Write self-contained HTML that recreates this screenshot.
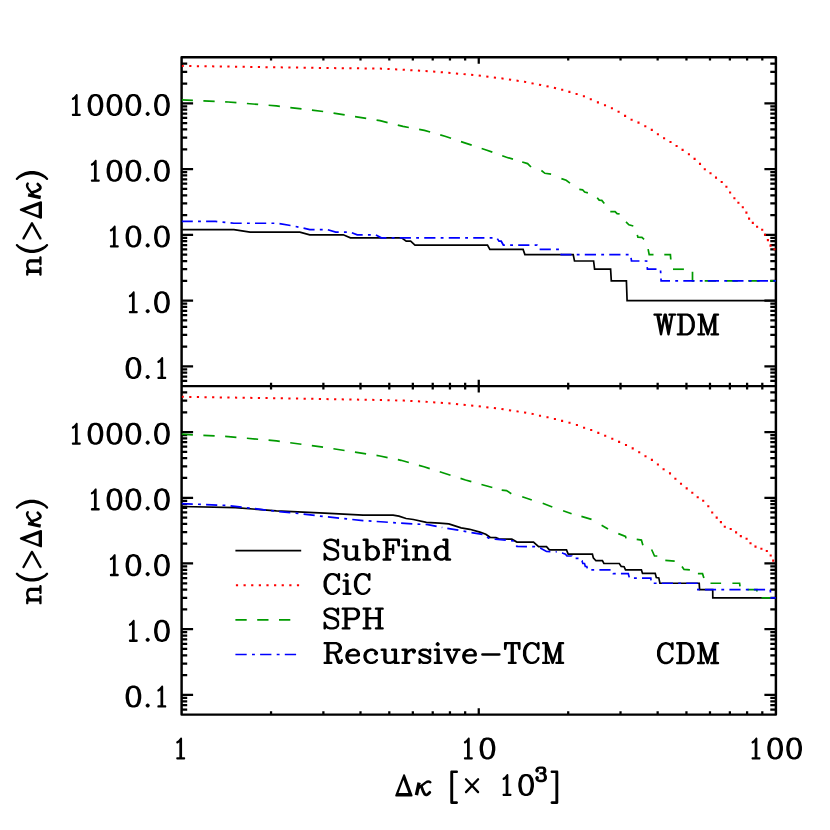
<!DOCTYPE html><html><head><meta charset="utf-8"><title>plot</title><style>html,body{margin:0;padding:0;background:#fff;font-family:"Liberation Sans",sans-serif}svg{display:block}</style></head><body><svg width="830" height="830" viewBox="0 0 830 830"><defs><clipPath id="ct"><rect x="181.6" y="57.3" width="594.3" height="328.8"/></clipPath><clipPath id="cb"><rect x="181.6" y="386.1" width="594.3" height="328.5"/></clipPath></defs><rect width="830" height="830" fill="#fff"/><path d="M181.6 380.95L187.2 380.95M775.9 380.95L770.3 380.95M181.6 376.55L187.2 376.55M775.9 376.55L770.3 376.55M181.6 372.73L187.2 372.73M775.9 372.73L770.3 372.73M181.6 369.37L187.2 369.37M775.9 369.37L770.3 369.37M181.6 366.36L193.1 366.36M775.9 366.36L764.4 366.36M181.6 346.56L187.2 346.56M775.9 346.56L770.3 346.56M181.6 334.98L187.2 334.98M775.9 334.98L770.3 334.98M181.6 326.77L187.2 326.77M775.9 326.77L770.3 326.77M181.6 320.4L187.2 320.4M775.9 320.4L770.3 320.4M181.6 315.19L187.2 315.19M775.9 315.19L770.3 315.19M181.6 310.79L187.2 310.79M775.9 310.79L770.3 310.79M181.6 306.97L187.2 306.97M775.9 306.97L770.3 306.97M181.6 303.61L187.2 303.61M775.9 303.61L770.3 303.61M181.6 300.6L193.1 300.6M775.9 300.6L764.4 300.6M181.6 280.8L187.2 280.8M775.9 280.8L770.3 280.8M181.6 269.22L187.2 269.22M775.9 269.22L770.3 269.22M181.6 261.01L187.2 261.01M775.9 261.01L770.3 261.01M181.6 254.64L187.2 254.64M775.9 254.64L770.3 254.64M181.6 249.43L187.2 249.43M775.9 249.43L770.3 249.43M181.6 245.03L187.2 245.03M775.9 245.03L770.3 245.03M181.6 241.21L187.2 241.21M775.9 241.21L770.3 241.21M181.6 237.85L187.2 237.85M775.9 237.85L770.3 237.85M181.6 234.84L193.1 234.84M775.9 234.84L764.4 234.84M181.6 215.04L187.2 215.04M775.9 215.04L770.3 215.04M181.6 203.46L187.2 203.46M775.9 203.46L770.3 203.46M181.6 195.25L187.2 195.25M775.9 195.25L770.3 195.25M181.6 188.88L187.2 188.88M775.9 188.88L770.3 188.88M181.6 183.67L187.2 183.67M775.9 183.67L770.3 183.67M181.6 179.27L187.2 179.27M775.9 179.27L770.3 179.27M181.6 175.45L187.2 175.45M775.9 175.45L770.3 175.45M181.6 172.09L187.2 172.09M775.9 172.09L770.3 172.09M181.6 169.08L193.1 169.08M775.9 169.08L764.4 169.08M181.6 149.28L187.2 149.28M775.9 149.28L770.3 149.28M181.6 137.7L187.2 137.7M775.9 137.7L770.3 137.7M181.6 129.49L187.2 129.49M775.9 129.49L770.3 129.49M181.6 123.12L187.2 123.12M775.9 123.12L770.3 123.12M181.6 117.91L187.2 117.91M775.9 117.91L770.3 117.91M181.6 113.51L187.2 113.51M775.9 113.51L770.3 113.51M181.6 109.69L187.2 109.69M775.9 109.69L770.3 109.69M181.6 106.33L187.2 106.33M775.9 106.33L770.3 106.33M181.6 103.32L193.1 103.32M775.9 103.32L764.4 103.32M181.6 83.52L187.2 83.52M775.9 83.52L770.3 83.52M181.6 71.94L187.2 71.94M775.9 71.94L770.3 71.94M181.6 63.73L187.2 63.73M775.9 63.73L770.3 63.73M271.05 57.3L271.05 60.6M271.05 386.1L271.05 382.8M323.38 57.3L323.38 60.6M323.38 386.1L323.38 382.8M360.5 57.3L360.5 60.6M360.5 386.1L360.5 382.8M389.3 57.3L389.3 60.6M389.3 386.1L389.3 382.8M412.83 57.3L412.83 60.6M412.83 386.1L412.83 382.8M432.72 57.3L432.72 60.6M432.72 386.1L432.72 382.8M449.95 57.3L449.95 60.6M449.95 386.1L449.95 382.8M465.15 57.3L465.15 60.6M465.15 386.1L465.15 382.8M478.75 57.3L478.75 63.7M478.75 386.1L478.75 379.7M568.2 57.3L568.2 60.6M568.2 386.1L568.2 382.8M620.53 57.3L620.53 60.6M620.53 386.1L620.53 382.8M657.65 57.3L657.65 60.6M657.65 386.1L657.65 382.8M686.45 57.3L686.45 60.6M686.45 386.1L686.45 382.8M709.98 57.3L709.98 60.6M709.98 386.1L709.98 382.8M729.87 57.3L729.87 60.6M729.87 386.1L729.87 382.8M747.1 57.3L747.1 60.6M747.1 386.1L747.1 382.8M762.3 57.3L762.3 60.6M762.3 386.1L762.3 382.8M181.6 709.5L187.2 709.5M775.9 709.5L770.3 709.5M181.6 705.1L187.2 705.1M775.9 705.1L770.3 705.1M181.6 701.29L187.2 701.29M775.9 701.29L770.3 701.29M181.6 697.93L187.2 697.93M775.9 697.93L770.3 697.93M181.6 694.92L193.1 694.92M775.9 694.92L764.4 694.92M181.6 675.14L187.2 675.14M775.9 675.14L770.3 675.14M181.6 663.56L187.2 663.56M775.9 663.56L770.3 663.56M181.6 655.35L187.2 655.35M775.9 655.35L770.3 655.35M181.6 648.98L187.2 648.98M775.9 648.98L770.3 648.98M181.6 643.78L187.2 643.78M775.9 643.78L770.3 643.78M181.6 639.38L187.2 639.38M775.9 639.38L770.3 639.38M181.6 635.57L187.2 635.57M775.9 635.57L770.3 635.57M181.6 632.21L187.2 632.21M775.9 632.21L770.3 632.21M181.6 629.2L193.1 629.2M775.9 629.2L764.4 629.2M181.6 609.42L187.2 609.42M775.9 609.42L770.3 609.42M181.6 597.84L187.2 597.84M775.9 597.84L770.3 597.84M181.6 589.63L187.2 589.63M775.9 589.63L770.3 589.63M181.6 583.26L187.2 583.26M775.9 583.26L770.3 583.26M181.6 578.06L187.2 578.06M775.9 578.06L770.3 578.06M181.6 573.66L187.2 573.66M775.9 573.66L770.3 573.66M181.6 569.85L187.2 569.85M775.9 569.85L770.3 569.85M181.6 566.49L187.2 566.49M775.9 566.49L770.3 566.49M181.6 563.48L193.1 563.48M775.9 563.48L764.4 563.48M181.6 543.7L187.2 543.7M775.9 543.7L770.3 543.7M181.6 532.12L187.2 532.12M775.9 532.12L770.3 532.12M181.6 523.91L187.2 523.91M775.9 523.91L770.3 523.91M181.6 517.54L187.2 517.54M775.9 517.54L770.3 517.54M181.6 512.34L187.2 512.34M775.9 512.34L770.3 512.34M181.6 507.94L187.2 507.94M775.9 507.94L770.3 507.94M181.6 504.13L187.2 504.13M775.9 504.13L770.3 504.13M181.6 500.77L187.2 500.77M775.9 500.77L770.3 500.77M181.6 497.76L193.1 497.76M775.9 497.76L764.4 497.76M181.6 477.98L187.2 477.98M775.9 477.98L770.3 477.98M181.6 466.4L187.2 466.4M775.9 466.4L770.3 466.4M181.6 458.19L187.2 458.19M775.9 458.19L770.3 458.19M181.6 451.82L187.2 451.82M775.9 451.82L770.3 451.82M181.6 446.62L187.2 446.62M775.9 446.62L770.3 446.62M181.6 442.22L187.2 442.22M775.9 442.22L770.3 442.22M181.6 438.41L187.2 438.41M775.9 438.41L770.3 438.41M181.6 435.05L187.2 435.05M775.9 435.05L770.3 435.05M181.6 432.04L193.1 432.04M775.9 432.04L764.4 432.04M181.6 412.26L187.2 412.26M775.9 412.26L770.3 412.26M181.6 400.68L187.2 400.68M775.9 400.68L770.3 400.68M181.6 392.47L187.2 392.47M775.9 392.47L770.3 392.47M271.05 386.1L271.05 389.4M271.05 714.6L271.05 711.3M323.38 386.1L323.38 389.4M323.38 714.6L323.38 711.3M360.5 386.1L360.5 389.4M360.5 714.6L360.5 711.3M389.3 386.1L389.3 389.4M389.3 714.6L389.3 711.3M412.83 386.1L412.83 389.4M412.83 714.6L412.83 711.3M432.72 386.1L432.72 389.4M432.72 714.6L432.72 711.3M449.95 386.1L449.95 389.4M449.95 714.6L449.95 711.3M465.15 386.1L465.15 389.4M465.15 714.6L465.15 711.3M478.75 386.1L478.75 392.5M478.75 714.6L478.75 708.2M568.2 386.1L568.2 389.4M568.2 714.6L568.2 711.3M620.53 386.1L620.53 389.4M620.53 714.6L620.53 711.3M657.65 386.1L657.65 389.4M657.65 714.6L657.65 711.3M686.45 386.1L686.45 389.4M686.45 714.6L686.45 711.3M709.98 386.1L709.98 389.4M709.98 714.6L709.98 711.3M729.87 386.1L729.87 389.4M729.87 714.6L729.87 711.3M747.1 386.1L747.1 389.4M747.1 714.6L747.1 711.3M762.3 386.1L762.3 389.4M762.3 714.6L762.3 711.3" stroke="#000" stroke-width="2.25" fill="none"/>
<path d="M181.6 57.3H775.9V714.6H181.6ZM181.6 386.1H775.9" stroke="#000" stroke-width="2.45" fill="none" stroke-linejoin="round"/>
<g clip-path="url(#ct)">
<path d="M181.6 229.63 L233.93 229.63 L250.08 232.12 L299.85 232.12 L309.78 234.84 L343.27 234.84 L350.44 237.85 L401.6 237.85 L406.21 241.21 L410.66 241.21 L414.96 245.03 L487.48 245.03 L489.87 249.43 L523.09 249.43 L524.91 254.64 L573.2 254.64 L574.5 261.01 L593.6 261.01 L594.6 269.22 L610.6 269.22 L611.3 280.8 L626.4 280.8 L627.1 300.6 L775.9 300.6" fill="none" stroke="#000" stroke-width="1.7" stroke-linejoin="miter"/>
<path d="M181.6 65.9 L228.2 66.6 L276.4 67.3 L324.6 68 L380 68.6 L404.1 69.8 L428.2 71.2 L452.3 73.1 L476.4 75.3 L500.5 78.2 L524.6 81.8 L548.7 86.6 L558.7 88.94" fill="none" stroke="#ff0000" stroke-width="2.0" stroke-dasharray="2.2 5.425" stroke-dashoffset="0" stroke-linejoin="miter"/>
<path d="M562.2 89.8h0M569.4 91.9h0M576.6 94h0M583.9 96.3h0M590.8 99.2h0M597.9 102.4h0M605 105.3h0M611.9 108.2h0M618.6 111.8h0M625.1 115.9h0M631.6 119.8h0M638.5 122.6h0M645.3 126.3h0M651.8 129.9h0M657.9 134.2h0M664.1 138.2h0M670.5 142h0M676.6 146h0M682.6 149.9h0M688.9 154.2h0M694.6 158.9h0M700 163.9h0M704.8 169.3h0M710.5 173.3h0M716 177.6h0M721.7 182h0M726.4 186.8h0M730.1 192.5h0M734.4 198.2h0M738.4 202.7h0M742.8 207.3h0M746.4 212.6h0M749.1 218.6h0M752.8 222.9h0M757.1 226.8h0M762.2 229.7h0M765 234.8h0M767.9 240.1h0M770.5 245.6h0M774.4 249.2h0" stroke="#ff0000" stroke-width="2.1" stroke-linecap="square" fill="none"/>
<path d="M181.6 99.9 L228.2 102 L276.4 105.9 L324.6 111.7 L380 120.7 L403 126.4 L424.4 130.4 L445 136.2 L465.5 143.1 L486.2 150 L506.5 157.2 L522.2 162" fill="none" stroke="#009a00" stroke-width="1.7" stroke-dasharray="11.3 10.5" stroke-dashoffset="0" stroke-linejoin="miter"/>
<path d="M522.2 162 L527.6 163.6 L531 167" fill="none" stroke="#009a00" stroke-width="1.7" stroke-linejoin="miter"/>
<path d="M541.4 170.5 L544.9 173.3 L551.1 174.1" fill="none" stroke="#009a00" stroke-width="1.7" stroke-linejoin="miter"/>
<path d="M561.4 178.6 L566.2 180.3 L570 183.1" fill="none" stroke="#009a00" stroke-width="1.7" stroke-linejoin="miter"/>
<path d="M579.3 189.4 L582.6 189.8 L584.6 192.1 L587.9 192.8" fill="none" stroke="#009a00" stroke-width="1.7" stroke-linejoin="miter"/>
<path d="M597.2 197.7 L599.2 200.1 L601.8 200.4 L604.3 203.5" fill="none" stroke="#009a00" stroke-width="1.7" stroke-linejoin="miter"/>
<path d="M610.3 211.6 L615.1 211.6 L617.1 213.6 L619.6 213.9" fill="none" stroke="#009a00" stroke-width="1.7" stroke-linejoin="miter"/>
<path d="M626 221.9 L628.9 224.8 L633.3 226" fill="none" stroke="#009a00" stroke-width="1.7" stroke-linejoin="miter"/>
<path d="M637.3 234.9 L637.9 237.1 L641.9 237.4 L644.1 239.3" fill="none" stroke="#009a00" stroke-width="1.7" stroke-linejoin="miter"/>
<path d="M648.1 249.1 L649.2 254.64 L653.5 254.64" fill="none" stroke="#009a00" stroke-width="1.7" stroke-linejoin="miter"/>
<path d="M664.3 254.64 L670.4 254.64 L670.8 259.5" fill="none" stroke="#009a00" stroke-width="1.7" stroke-linejoin="miter"/>
<path d="M673 269.22 L683.9 269.22" fill="none" stroke="#009a00" stroke-width="1.7" stroke-linejoin="miter"/>
<path d="M692.5 271.8 L692.5 280.8 L694 280.8" fill="none" stroke="#009a00" stroke-width="1.7" stroke-linejoin="miter"/>
<path d="M694 280.8 L775.9 280.8" fill="none" stroke="#009a00" stroke-width="1.7" stroke-dasharray="11.3 10.5" stroke-dashoffset="11.1" stroke-linejoin="miter"/>
<path d="M181.6 221.42 L215.46 221.42 L233.93 223.26 L277.35 223.26 L289.09 225.23 L289.09 225.23 L299.85 227.35 L299.85 227.35 L309.78 229.63 L327.61 229.63 L335.68 232.12 L350.44 232.12 L357.23 234.84 L375.7 234.84 L381.31 237.85 L496.79 237.85 L499.01 241.21 L501.2 241.21 L503.35 245.03 L536.96 245.03 L538.6 249.43 L559.6 249.43 L561.2 254.64 L630.6 254.64 L631.5 261.01 L646.6 261.01 L647.4 269.22 L660.5 269.22 L661.1 280.8 L775.9 280.8" fill="none" stroke="#0000ff" stroke-width="1.7" stroke-dasharray="11.2 5.25 2.85 5.2" stroke-dashoffset="0" stroke-linejoin="miter"/>
</g>
<g clip-path="url(#cb)">
<path d="M181.6 506.5 L235.4 507.7 L276.4 510.8 L324.6 513.2 L363.1 515.2 L393.1 515.2 L398.9 516.2 L406.1 518.5 L413.4 519.5 L426.4 522.4 L439.4 523.1 L448.8 523.9 L461.1 527.9 L469.8 529.3 L479.9 532.1 L485.8 534.2 L490.1 537.3 L495.9 537.6 L498.8 538.8 L511.8 539.2 L516.9 542.1 L533.5 542.1 L538.6 546.7 L546.5 546.7 L549.4 549.9 L566.5 549.9 L568.2 554.1 L592.4 554.1 L593.3 557.8 L595.9 560.7 L602.4 560.7 L603.9 563.5 L619.3 563.5 L621.2 566.4 L624.1 566.7 L625.5 569.8 L641.4 569.8 L642.5 573.4 L655.2 573.4 L656.3 577.5 L658.8 577.9 L659.9 583.26 L699.2 583.26 L699.6 589.63 L712.7 589.63 L712.8 597.84 L775.9 597.84" fill="none" stroke="#000" stroke-width="1.7" stroke-linejoin="miter"/>
<path d="M181.6 396.8 L280 398.3 L380 400 L404.1 400.6 L428.2 401.9 L452.3 403.6 L476.4 406 L500.5 408.9 L524.6 412.5 L536.5 414.62" fill="none" stroke="#ff0000" stroke-width="2.0" stroke-dasharray="2.2 5.425" stroke-dashoffset="0" stroke-linejoin="miter"/>
<path d="M540 415.8h0M547.5 417.3h0M554.9 419h0M562.1 420.9h0M569.5 422.8h0M576.9 425h0M584.1 427.7h0M591.2 430h0M598.3 432.9h0M605.2 435.8h0M612.3 438.7h0M619.1 441.9h0M626 445h0M632.7 448.4h0M639.2 452.3h0M645.5 456.3h0M651.9 459.9h0M657.9 464.5h0M663.6 469.2h0M670 473.4h0M675.4 478.8h0M681 483.8h0M686.7 488.4h0M692.3 492.8h0M697.7 497.3h0M703.2 500.7h0M708.3 506.3h0M712.2 512.5h0M716.7 517.6h0M720.9 522.1h0M724.8 526.8h0M730.7 529h0M736.1 532.4h0M740.8 536.1h0M746.6 538.7h0M750.5 543.2h0M755.5 546.6h0M761.4 548.8h0M766.8 551h0M770.7 555.5h0M773.2 560.6h0" stroke="#ff0000" stroke-width="2.1" stroke-linecap="square" fill="none"/>
<path d="M181.6 434.2 L228.2 436.6 L276.4 440.9 L324.6 447.4 L380 456 L401 460.3 L424 466.8 L445.1 473.5 L465.5 480 L486 485.8 L501.7 490.1" fill="none" stroke="#009a00" stroke-width="1.7" stroke-dasharray="11.3 10.5" stroke-dashoffset="0" stroke-linejoin="miter"/>
<path d="M501.7 490.1 L506.5 490.6 L511.3 493.7" fill="none" stroke="#009a00" stroke-width="1.7" stroke-linejoin="miter"/>
<path d="M522.2 496.8 L531.8 500" fill="none" stroke="#009a00" stroke-width="1.7" stroke-linejoin="miter"/>
<path d="M542.7 503.3 L552.3 507" fill="none" stroke="#009a00" stroke-width="1.7" stroke-linejoin="miter"/>
<path d="M563.1 510.8 L571.6 513.7" fill="none" stroke="#009a00" stroke-width="1.7" stroke-linejoin="miter"/>
<path d="M581.4 516.4 L591.5 519.4" fill="none" stroke="#009a00" stroke-width="1.7" stroke-linejoin="miter"/>
<path d="M601.6 525.3 L608 529" fill="none" stroke="#009a00" stroke-width="1.7" stroke-linejoin="miter"/>
<path d="M618.3 533.6 L625.5 536.5 L626 538.4" fill="none" stroke="#009a00" stroke-width="1.7" stroke-linejoin="miter"/>
<path d="M636.7 539.4 L641.4 540.1 L642.9 545.2" fill="none" stroke="#009a00" stroke-width="1.7" stroke-linejoin="miter"/>
<path d="M651.6 549.5 L654.5 556 L657.3 556" fill="none" stroke="#009a00" stroke-width="1.7" stroke-linejoin="miter"/>
<path d="M665.3 560.4 L674.7 561.1" fill="none" stroke="#009a00" stroke-width="1.7" stroke-linejoin="miter"/>
<path d="M682 566.5 L684 569.4 L689.9 569.85" fill="none" stroke="#009a00" stroke-width="1.7" stroke-linejoin="miter"/>
<path d="M697.9 573.66 L702.5 573.66 L703.9 578.06" fill="none" stroke="#009a00" stroke-width="1.7" stroke-linejoin="miter"/>
<path d="M710.5 583.26 L721.1 583.26" fill="none" stroke="#009a00" stroke-width="1.7" stroke-linejoin="miter"/>
<path d="M732.4 583.26 L739.6 583.26 L740 586.4" fill="none" stroke="#009a00" stroke-width="1.7" stroke-linejoin="miter"/>
<path d="M747.5 589.63 L756.9 589.63 L756.9 591.5" fill="none" stroke="#009a00" stroke-width="1.7" stroke-linejoin="miter"/>
<path d="M761.5 597.84 L771.5 597.84" fill="none" stroke="#009a00" stroke-width="1.7" stroke-linejoin="miter"/>
<path d="M181.6 503.6 L228.2 505.5 L276.4 511.3 L300.5 513.7 L324.6 516.6 L363.1 520.6 L384.5 522 L398.9 523.1 L413.4 523.9 L427.8 524.6 L442.3 527.5" fill="none" stroke="#0000ff" stroke-width="1.7" stroke-dasharray="11.2 5.25 2.85 5.2" stroke-dashoffset="0" stroke-linejoin="miter"/>
<path d="M442.3 527.5 L456.7 529.9 L471.2 532.5 L482.8 534.4 L488.7 538.1 L495.2 539.2 L514 541 L516.9 546.5 L534.9 546.7 L540.7 548.2 L546.5 551.5 L556.6 551.8" fill="none" stroke="#0000ff" stroke-width="1.7" stroke-dasharray="11.2 5.25 2.85 5.2" stroke-dashoffset="19.4" stroke-linejoin="miter"/>
<path d="M556.6 551.8 L562.2 553 L565.5 554.2 L566.9 555.99 L571.8 555.99 L572.5 558.28 L579.5 558.28 L580.3 560.76 L582 560.76 L582.8 563.48 L584.5 563.48 L585.3 566.49 L586.8 566.49 L587.6 569.85 L612.3 569.85 L613.3 573.66 L628.3 573.66 L629.4 578.06 L650.8 578.06 L651.3 583.26 L697.4 583.26 L697.9 589.63 L770.3 589.63 L770.8 597.84 L775.9 597.84" fill="none" stroke="#0000ff" stroke-width="1.7" stroke-dasharray="11.2 5.25 2.85 5.2" stroke-dashoffset="19.01" stroke-linejoin="miter"/>
</g>
<path d="M235.4 550.6 L301.2 550.6" fill="none" stroke="#000" stroke-width="1.7" stroke-linejoin="miter"/>
<path d="M235.9 585.3 L301.2 585.3" fill="none" stroke="#ff0000" stroke-width="2.0" stroke-dasharray="2.2 5.425" stroke-dashoffset="0" stroke-linejoin="miter"/>
<path d="M235.4 619.8 L295 619.8" fill="none" stroke="#009a00" stroke-width="1.7" stroke-dasharray="11.3 10.5" stroke-dashoffset="0" stroke-linejoin="miter"/>
<path d="M235.4 654.5 L300 654.5" fill="none" stroke="#0000ff" stroke-width="1.7" stroke-dasharray="11.3 5.3 2.9 5.2" stroke-dashoffset="0" stroke-linejoin="miter"/>
<path d="M76.99 93.99 L76.75 93.99 L76.7 93.93 L76.65 93.99 L76.41 93.99 L76.12 94.17 L73.78 96.99 L72.37 97.81 L72.03 98.16 L71.88 98.52 L71.88 98.81 L71.83 98.87 L71.88 98.93 L71.88 99.22 L72.03 99.57 L72.22 99.81 L72.51 99.99 L72.76 99.99 L72.81 100.04 L73.24 99.93 L74.8 98.99 L74.9 98.87 L74.95 98.93 L74.95 113.62 L74.9 113.67 L72.81 113.67 L72.76 113.73 L72.51 113.73 L72.22 113.91 L72.03 114.14 L71.88 114.5 L71.88 114.79 L71.83 114.85 L71.88 114.91 L71.88 115.2 L72.03 115.55 L72.22 115.79 L72.51 115.97 L72.76 115.97 L72.81 116.02 L79.82 116.02 L79.87 115.97 L80.11 115.97 L80.4 115.79 L80.6 115.55 L80.74 115.2 L80.74 114.91 L80.79 114.85 L80.74 114.79 L80.74 114.5 L80.6 114.14 L80.4 113.91 L80.11 113.73 L79.87 113.73 L79.82 113.67 L77.72 113.67 L77.68 113.62 L77.68 95.11 L77.63 95.05 L77.63 94.76 L77.48 94.4 L77.29 94.17ZM94.48 93.93 L94.42 93.99 L94.06 93.99 L91.39 94.87 L90.92 95.11 L90.62 95.4 L88.72 98.22 L88.54 98.63 L87.59 103.33 L87.65 103.39 L87.59 103.57 L87.59 106.39 L87.65 106.57 L87.59 106.62 L88.54 111.32 L88.72 111.74 L90.62 114.56 L90.92 114.85 L91.39 115.08 L94.06 115.97 L94.42 115.97 L94.48 116.02 L96.38 116.02 L96.44 115.97 L96.8 115.97 L99.47 115.08 L99.94 114.85 L100.24 114.56 L102.14 111.74 L102.32 111.32 L103.27 106.62 L103.21 106.57 L103.27 106.39 L103.27 103.57 L103.21 103.39 L103.27 103.33 L102.32 98.63 L102.14 98.22 L100.24 95.4 L99.94 95.11 L99.47 94.87 L96.8 93.99 L96.44 93.99 L96.38 93.93ZM94.72 96.28 L96.14 96.28 L97.57 96.99 L98.28 97.69 L99.05 99.22 L99.94 103.57 L99.94 106.39 L99.05 110.74 L98.28 112.26 L97.57 112.97 L96.14 113.67 L94.72 113.67 L93.29 112.97 L92.58 112.26 L91.81 110.74 L90.92 106.39 L90.92 103.57 L91.81 99.22 L92.58 97.69 L93.29 96.99ZM113.48 93.93 L113.42 93.99 L113.06 93.99 L110.39 94.87 L109.92 95.11 L109.62 95.4 L107.72 98.22 L107.54 98.63 L106.59 103.33 L106.65 103.39 L106.59 103.57 L106.59 106.39 L106.65 106.57 L106.59 106.62 L107.54 111.32 L107.72 111.74 L109.62 114.56 L109.92 114.85 L110.39 115.08 L113.06 115.97 L113.42 115.97 L113.48 116.02 L115.38 116.02 L115.44 115.97 L115.8 115.97 L118.47 115.08 L118.94 114.85 L119.24 114.56 L121.14 111.74 L121.32 111.32 L122.27 106.62 L122.21 106.57 L122.27 106.39 L122.27 103.57 L122.21 103.39 L122.27 103.33 L121.32 98.63 L121.14 98.22 L119.24 95.4 L118.94 95.11 L118.47 94.87 L115.8 93.99 L115.44 93.99 L115.38 93.93ZM113.72 96.28 L115.14 96.28 L116.57 96.99 L117.28 97.69 L118.05 99.22 L118.94 103.57 L118.94 106.39 L118.05 110.74 L117.28 112.26 L116.57 112.97 L115.14 113.67 L113.72 113.67 L112.29 112.97 L111.58 112.26 L110.81 110.74 L109.92 106.39 L109.92 103.57 L110.81 99.22 L111.58 97.69 L112.29 96.99ZM132.48 93.93 L132.42 93.99 L132.06 93.99 L129.39 94.87 L128.92 95.11 L128.62 95.4 L126.72 98.22 L126.54 98.63 L125.59 103.33 L125.65 103.39 L125.59 103.57 L125.59 106.39 L125.65 106.57 L125.59 106.62 L126.54 111.32 L126.72 111.74 L128.62 114.56 L128.92 114.85 L129.39 115.08 L132.06 115.97 L132.42 115.97 L132.48 116.02 L134.38 116.02 L134.44 115.97 L134.8 115.97 L137.47 115.08 L137.94 114.85 L138.24 114.56 L140.14 111.74 L140.32 111.32 L141.27 106.62 L141.21 106.57 L141.27 106.39 L141.27 103.57 L141.21 103.39 L141.27 103.33 L140.32 98.63 L140.14 98.22 L138.24 95.4 L137.94 95.11 L137.47 94.87 L134.8 93.99 L134.44 93.99 L134.38 93.93ZM132.72 96.28 L134.14 96.28 L135.57 96.99 L136.28 97.69 L137.05 99.22 L137.94 103.57 L137.94 106.39 L137.05 110.74 L136.28 112.26 L135.57 112.97 L134.14 113.67 L132.72 113.67 L131.29 112.97 L130.58 112.26 L129.81 110.74 L128.92 106.39 L128.92 103.57 L129.81 99.22 L130.58 97.69 L131.29 96.99ZM147.68 111.79 L147.62 111.85 L147.32 111.85 L146.97 112.03 L145.78 113.2 L145.6 113.56 L145.6 113.85 L145.54 113.91 L145.6 113.97 L145.6 114.26 L145.78 114.61 L146.97 115.79 L147.32 115.97 L147.62 115.97 L147.68 116.02 L147.74 115.97 L148.04 115.97 L148.39 115.79 L149.58 114.61 L149.76 114.26 L149.76 113.97 L149.82 113.91 L149.76 113.85 L149.76 113.56 L149.58 113.2 L148.39 112.03 L148.04 111.85 L147.74 111.85ZM160.98 93.93 L160.92 93.99 L160.56 93.99 L157.89 94.87 L157.42 95.11 L157.12 95.4 L155.22 98.22 L155.04 98.63 L154.09 103.33 L154.15 103.39 L154.09 103.57 L154.09 106.39 L154.15 106.57 L154.09 106.62 L155.04 111.32 L155.22 111.74 L157.12 114.56 L157.42 114.85 L157.89 115.08 L160.56 115.97 L160.92 115.97 L160.98 116.02 L162.88 116.02 L162.94 115.97 L163.3 115.97 L165.97 115.08 L166.44 114.85 L166.74 114.56 L168.64 111.74 L168.82 111.32 L169.77 106.62 L169.71 106.57 L169.77 106.39 L169.77 103.57 L169.71 103.39 L169.77 103.33 L168.82 98.63 L168.64 98.22 L166.74 95.4 L166.44 95.11 L165.97 94.87 L163.3 93.99 L162.94 93.99 L162.88 93.93ZM161.22 96.28 L162.64 96.28 L164.07 96.99 L164.78 97.69 L165.55 99.22 L166.44 103.57 L166.44 106.39 L165.55 110.74 L164.78 112.26 L164.07 112.97 L162.64 113.67 L161.22 113.67 L159.79 112.97 L159.08 112.26 L158.31 110.74 L157.42 106.39 L157.42 103.57 L158.31 99.22 L159.08 97.69 L159.79 96.99Z" fill="#000" fill-rule="evenodd"/>
<path d="M76.99 422.71 L76.75 422.71 L76.7 422.65 L76.65 422.71 L76.41 422.71 L76.12 422.89 L73.78 425.71 L72.37 426.53 L72.03 426.88 L71.88 427.24 L71.88 427.53 L71.83 427.59 L71.88 427.65 L71.88 427.94 L72.03 428.29 L72.22 428.53 L72.51 428.71 L72.76 428.71 L72.81 428.76 L73.24 428.65 L74.8 427.71 L74.9 427.59 L74.95 427.65 L74.95 442.34 L74.9 442.39 L72.81 442.39 L72.76 442.45 L72.51 442.45 L72.22 442.63 L72.03 442.86 L71.88 443.22 L71.88 443.51 L71.83 443.57 L71.88 443.63 L71.88 443.92 L72.03 444.27 L72.22 444.51 L72.51 444.69 L72.76 444.69 L72.81 444.74 L79.82 444.74 L79.87 444.69 L80.11 444.69 L80.4 444.51 L80.6 444.27 L80.74 443.92 L80.74 443.63 L80.79 443.57 L80.74 443.51 L80.74 443.22 L80.6 442.86 L80.4 442.63 L80.11 442.45 L79.87 442.45 L79.82 442.39 L77.72 442.39 L77.68 442.34 L77.68 423.83 L77.63 423.77 L77.63 423.48 L77.48 423.12 L77.29 422.89ZM94.48 422.65 L94.42 422.71 L94.06 422.71 L91.39 423.59 L90.92 423.83 L90.62 424.12 L88.72 426.94 L88.54 427.35 L87.59 432.05 L87.65 432.11 L87.59 432.29 L87.59 435.11 L87.65 435.29 L87.59 435.34 L88.54 440.04 L88.72 440.46 L90.62 443.28 L90.92 443.57 L91.39 443.8 L94.06 444.69 L94.42 444.69 L94.48 444.74 L96.38 444.74 L96.44 444.69 L96.8 444.69 L99.47 443.8 L99.94 443.57 L100.24 443.28 L102.14 440.46 L102.32 440.04 L103.27 435.34 L103.21 435.29 L103.27 435.11 L103.27 432.29 L103.21 432.11 L103.27 432.05 L102.32 427.35 L102.14 426.94 L100.24 424.12 L99.94 423.83 L99.47 423.59 L96.8 422.71 L96.44 422.71 L96.38 422.65ZM94.72 425 L96.14 425 L97.57 425.71 L98.28 426.41 L99.05 427.94 L99.94 432.29 L99.94 435.11 L99.05 439.46 L98.28 440.98 L97.57 441.69 L96.14 442.39 L94.72 442.39 L93.29 441.69 L92.58 440.98 L91.81 439.46 L90.92 435.11 L90.92 432.29 L91.81 427.94 L92.58 426.41 L93.29 425.71ZM113.48 422.65 L113.42 422.71 L113.06 422.71 L110.39 423.59 L109.92 423.83 L109.62 424.12 L107.72 426.94 L107.54 427.35 L106.59 432.05 L106.65 432.11 L106.59 432.29 L106.59 435.11 L106.65 435.29 L106.59 435.34 L107.54 440.04 L107.72 440.46 L109.62 443.28 L109.92 443.57 L110.39 443.8 L113.06 444.69 L113.42 444.69 L113.48 444.74 L115.38 444.74 L115.44 444.69 L115.8 444.69 L118.47 443.8 L118.94 443.57 L119.24 443.28 L121.14 440.46 L121.32 440.04 L122.27 435.34 L122.21 435.29 L122.27 435.11 L122.27 432.29 L122.21 432.11 L122.27 432.05 L121.32 427.35 L121.14 426.94 L119.24 424.12 L118.94 423.83 L118.47 423.59 L115.8 422.71 L115.44 422.71 L115.38 422.65ZM113.72 425 L115.14 425 L116.57 425.71 L117.28 426.41 L118.05 427.94 L118.94 432.29 L118.94 435.11 L118.05 439.46 L117.28 440.98 L116.57 441.69 L115.14 442.39 L113.72 442.39 L112.29 441.69 L111.58 440.98 L110.81 439.46 L109.92 435.11 L109.92 432.29 L110.81 427.94 L111.58 426.41 L112.29 425.71ZM132.48 422.65 L132.42 422.71 L132.06 422.71 L129.39 423.59 L128.92 423.83 L128.62 424.12 L126.72 426.94 L126.54 427.35 L125.59 432.05 L125.65 432.11 L125.59 432.29 L125.59 435.11 L125.65 435.29 L125.59 435.34 L126.54 440.04 L126.72 440.46 L128.62 443.28 L128.92 443.57 L129.39 443.8 L132.06 444.69 L132.42 444.69 L132.48 444.74 L134.38 444.74 L134.44 444.69 L134.8 444.69 L137.47 443.8 L137.94 443.57 L138.24 443.28 L140.14 440.46 L140.32 440.04 L141.27 435.34 L141.21 435.29 L141.27 435.11 L141.27 432.29 L141.21 432.11 L141.27 432.05 L140.32 427.35 L140.14 426.94 L138.24 424.12 L137.94 423.83 L137.47 423.59 L134.8 422.71 L134.44 422.71 L134.38 422.65ZM132.72 425 L134.14 425 L135.57 425.71 L136.28 426.41 L137.05 427.94 L137.94 432.29 L137.94 435.11 L137.05 439.46 L136.28 440.98 L135.57 441.69 L134.14 442.39 L132.72 442.39 L131.29 441.69 L130.58 440.98 L129.81 439.46 L128.92 435.11 L128.92 432.29 L129.81 427.94 L130.58 426.41 L131.29 425.71ZM147.68 440.51 L147.62 440.57 L147.32 440.57 L146.97 440.75 L145.78 441.92 L145.6 442.28 L145.6 442.57 L145.54 442.63 L145.6 442.69 L145.6 442.98 L145.78 443.33 L146.97 444.51 L147.32 444.69 L147.62 444.69 L147.68 444.74 L147.74 444.69 L148.04 444.69 L148.39 444.51 L149.58 443.33 L149.76 442.98 L149.76 442.69 L149.82 442.63 L149.76 442.57 L149.76 442.28 L149.58 441.92 L148.39 440.75 L148.04 440.57 L147.74 440.57ZM160.98 422.65 L160.92 422.71 L160.56 422.71 L157.89 423.59 L157.42 423.83 L157.12 424.12 L155.22 426.94 L155.04 427.35 L154.09 432.05 L154.15 432.11 L154.09 432.29 L154.09 435.11 L154.15 435.29 L154.09 435.34 L155.04 440.04 L155.22 440.46 L157.12 443.28 L157.42 443.57 L157.89 443.8 L160.56 444.69 L160.92 444.69 L160.98 444.74 L162.88 444.74 L162.94 444.69 L163.3 444.69 L165.97 443.8 L166.44 443.57 L166.74 443.28 L168.64 440.46 L168.82 440.04 L169.77 435.34 L169.71 435.29 L169.77 435.11 L169.77 432.29 L169.71 432.11 L169.77 432.05 L168.82 427.35 L168.64 426.94 L166.74 424.12 L166.44 423.83 L165.97 423.59 L163.3 422.71 L162.94 422.71 L162.88 422.65ZM161.22 425 L162.64 425 L164.07 425.71 L164.78 426.41 L165.55 427.94 L166.44 432.29 L166.44 435.11 L165.55 439.46 L164.78 440.98 L164.07 441.69 L162.64 442.39 L161.22 442.39 L159.79 441.69 L159.08 440.98 L158.31 439.46 L157.42 435.11 L157.42 432.29 L158.31 427.94 L159.08 426.41 L159.79 425.71Z" fill="#000" fill-rule="evenodd"/>
<path d="M95.99 159.75 L95.75 159.75 L95.7 159.69 L95.65 159.75 L95.41 159.75 L95.12 159.93 L92.78 162.75 L91.37 163.57 L91.03 163.92 L90.88 164.28 L90.88 164.57 L90.83 164.63 L90.88 164.69 L90.88 164.98 L91.03 165.33 L91.22 165.57 L91.51 165.75 L91.76 165.75 L91.81 165.8 L92.24 165.69 L93.8 164.75 L93.9 164.63 L93.95 164.69 L93.95 179.38 L93.9 179.43 L91.81 179.43 L91.76 179.49 L91.51 179.49 L91.22 179.67 L91.03 179.9 L90.88 180.26 L90.88 180.55 L90.83 180.61 L90.88 180.67 L90.88 180.96 L91.03 181.31 L91.22 181.55 L91.51 181.73 L91.76 181.73 L91.81 181.78 L98.82 181.78 L98.87 181.73 L99.11 181.73 L99.4 181.55 L99.6 181.31 L99.74 180.96 L99.74 180.67 L99.79 180.61 L99.74 180.55 L99.74 180.26 L99.6 179.9 L99.4 179.67 L99.11 179.49 L98.87 179.49 L98.82 179.43 L96.72 179.43 L96.68 179.38 L96.68 160.87 L96.63 160.81 L96.63 160.52 L96.48 160.16 L96.29 159.93ZM113.48 159.69 L113.42 159.75 L113.06 159.75 L110.39 160.63 L109.92 160.87 L109.62 161.16 L107.72 163.98 L107.54 164.39 L106.59 169.09 L106.65 169.15 L106.59 169.33 L106.59 172.15 L106.65 172.33 L106.59 172.38 L107.54 177.08 L107.72 177.5 L109.62 180.32 L109.92 180.61 L110.39 180.84 L113.06 181.73 L113.42 181.73 L113.48 181.78 L115.38 181.78 L115.44 181.73 L115.8 181.73 L118.47 180.84 L118.94 180.61 L119.24 180.32 L121.14 177.5 L121.32 177.08 L122.27 172.38 L122.21 172.33 L122.27 172.15 L122.27 169.33 L122.21 169.15 L122.27 169.09 L121.32 164.39 L121.14 163.98 L119.24 161.16 L118.94 160.87 L118.47 160.63 L115.8 159.75 L115.44 159.75 L115.38 159.69ZM113.72 162.04 L115.14 162.04 L116.57 162.75 L117.28 163.45 L118.05 164.98 L118.94 169.33 L118.94 172.15 L118.05 176.5 L117.28 178.02 L116.57 178.73 L115.14 179.43 L113.72 179.43 L112.29 178.73 L111.58 178.02 L110.81 176.5 L109.92 172.15 L109.92 169.33 L110.81 164.98 L111.58 163.45 L112.29 162.75ZM132.48 159.69 L132.42 159.75 L132.06 159.75 L129.39 160.63 L128.92 160.87 L128.62 161.16 L126.72 163.98 L126.54 164.39 L125.59 169.09 L125.65 169.15 L125.59 169.33 L125.59 172.15 L125.65 172.33 L125.59 172.38 L126.54 177.08 L126.72 177.5 L128.62 180.32 L128.92 180.61 L129.39 180.84 L132.06 181.73 L132.42 181.73 L132.48 181.78 L134.38 181.78 L134.44 181.73 L134.8 181.73 L137.47 180.84 L137.94 180.61 L138.24 180.32 L140.14 177.5 L140.32 177.08 L141.27 172.38 L141.21 172.33 L141.27 172.15 L141.27 169.33 L141.21 169.15 L141.27 169.09 L140.32 164.39 L140.14 163.98 L138.24 161.16 L137.94 160.87 L137.47 160.63 L134.8 159.75 L134.44 159.75 L134.38 159.69ZM132.72 162.04 L134.14 162.04 L135.57 162.75 L136.28 163.45 L137.05 164.98 L137.94 169.33 L137.94 172.15 L137.05 176.5 L136.28 178.02 L135.57 178.73 L134.14 179.43 L132.72 179.43 L131.29 178.73 L130.58 178.02 L129.81 176.5 L128.92 172.15 L128.92 169.33 L129.81 164.98 L130.58 163.45 L131.29 162.75ZM147.68 177.55 L147.62 177.61 L147.32 177.61 L146.97 177.79 L145.78 178.96 L145.6 179.32 L145.6 179.61 L145.54 179.67 L145.6 179.73 L145.6 180.02 L145.78 180.37 L146.97 181.55 L147.32 181.73 L147.62 181.73 L147.68 181.78 L147.74 181.73 L148.04 181.73 L148.39 181.55 L149.58 180.37 L149.76 180.02 L149.76 179.73 L149.82 179.67 L149.76 179.61 L149.76 179.32 L149.58 178.96 L148.39 177.79 L148.04 177.61 L147.74 177.61ZM160.98 159.69 L160.92 159.75 L160.56 159.75 L157.89 160.63 L157.42 160.87 L157.12 161.16 L155.22 163.98 L155.04 164.39 L154.09 169.09 L154.15 169.15 L154.09 169.33 L154.09 172.15 L154.15 172.33 L154.09 172.38 L155.04 177.08 L155.22 177.5 L157.12 180.32 L157.42 180.61 L157.89 180.84 L160.56 181.73 L160.92 181.73 L160.98 181.78 L162.88 181.78 L162.94 181.73 L163.3 181.73 L165.97 180.84 L166.44 180.61 L166.74 180.32 L168.64 177.5 L168.82 177.08 L169.77 172.38 L169.71 172.33 L169.77 172.15 L169.77 169.33 L169.71 169.15 L169.77 169.09 L168.82 164.39 L168.64 163.98 L166.74 161.16 L166.44 160.87 L165.97 160.63 L163.3 159.75 L162.94 159.75 L162.88 159.69ZM161.22 162.04 L162.64 162.04 L164.07 162.75 L164.78 163.45 L165.55 164.98 L166.44 169.33 L166.44 172.15 L165.55 176.5 L164.78 178.02 L164.07 178.73 L162.64 179.43 L161.22 179.43 L159.79 178.73 L159.08 178.02 L158.31 176.5 L157.42 172.15 L157.42 169.33 L158.31 164.98 L159.08 163.45 L159.79 162.75Z" fill="#000" fill-rule="evenodd"/>
<path d="M95.99 488.43 L95.75 488.43 L95.7 488.37 L95.65 488.43 L95.41 488.43 L95.12 488.61 L92.78 491.43 L91.37 492.25 L91.03 492.6 L90.88 492.96 L90.88 493.25 L90.83 493.31 L90.88 493.37 L90.88 493.66 L91.03 494.01 L91.22 494.25 L91.51 494.43 L91.76 494.43 L91.81 494.48 L92.24 494.37 L93.8 493.43 L93.9 493.31 L93.95 493.37 L93.95 508.06 L93.9 508.11 L91.81 508.11 L91.76 508.17 L91.51 508.17 L91.22 508.35 L91.03 508.58 L90.88 508.94 L90.88 509.23 L90.83 509.29 L90.88 509.35 L90.88 509.64 L91.03 509.99 L91.22 510.23 L91.51 510.41 L91.76 510.41 L91.81 510.46 L98.82 510.46 L98.87 510.41 L99.11 510.41 L99.4 510.23 L99.6 509.99 L99.74 509.64 L99.74 509.35 L99.79 509.29 L99.74 509.23 L99.74 508.94 L99.6 508.58 L99.4 508.35 L99.11 508.17 L98.87 508.17 L98.82 508.11 L96.72 508.11 L96.68 508.06 L96.68 489.55 L96.63 489.49 L96.63 489.2 L96.48 488.84 L96.29 488.61ZM113.48 488.37 L113.42 488.43 L113.06 488.43 L110.39 489.31 L109.92 489.55 L109.62 489.84 L107.72 492.66 L107.54 493.07 L106.59 497.77 L106.65 497.83 L106.59 498.01 L106.59 500.83 L106.65 501.01 L106.59 501.06 L107.54 505.76 L107.72 506.18 L109.62 509 L109.92 509.29 L110.39 509.52 L113.06 510.41 L113.42 510.41 L113.48 510.46 L115.38 510.46 L115.44 510.41 L115.8 510.41 L118.47 509.52 L118.94 509.29 L119.24 509 L121.14 506.18 L121.32 505.76 L122.27 501.06 L122.21 501.01 L122.27 500.83 L122.27 498.01 L122.21 497.83 L122.27 497.77 L121.32 493.07 L121.14 492.66 L119.24 489.84 L118.94 489.55 L118.47 489.31 L115.8 488.43 L115.44 488.43 L115.38 488.37ZM113.72 490.72 L115.14 490.72 L116.57 491.43 L117.28 492.13 L118.05 493.66 L118.94 498.01 L118.94 500.83 L118.05 505.18 L117.28 506.7 L116.57 507.41 L115.14 508.11 L113.72 508.11 L112.29 507.41 L111.58 506.7 L110.81 505.18 L109.92 500.83 L109.92 498.01 L110.81 493.66 L111.58 492.13 L112.29 491.43ZM132.48 488.37 L132.42 488.43 L132.06 488.43 L129.39 489.31 L128.92 489.55 L128.62 489.84 L126.72 492.66 L126.54 493.07 L125.59 497.77 L125.65 497.83 L125.59 498.01 L125.59 500.83 L125.65 501.01 L125.59 501.06 L126.54 505.76 L126.72 506.18 L128.62 509 L128.92 509.29 L129.39 509.52 L132.06 510.41 L132.42 510.41 L132.48 510.46 L134.38 510.46 L134.44 510.41 L134.8 510.41 L137.47 509.52 L137.94 509.29 L138.24 509 L140.14 506.18 L140.32 505.76 L141.27 501.06 L141.21 501.01 L141.27 500.83 L141.27 498.01 L141.21 497.83 L141.27 497.77 L140.32 493.07 L140.14 492.66 L138.24 489.84 L137.94 489.55 L137.47 489.31 L134.8 488.43 L134.44 488.43 L134.38 488.37ZM132.72 490.72 L134.14 490.72 L135.57 491.43 L136.28 492.13 L137.05 493.66 L137.94 498.01 L137.94 500.83 L137.05 505.18 L136.28 506.7 L135.57 507.41 L134.14 508.11 L132.72 508.11 L131.29 507.41 L130.58 506.7 L129.81 505.18 L128.92 500.83 L128.92 498.01 L129.81 493.66 L130.58 492.13 L131.29 491.43ZM147.68 506.23 L147.62 506.29 L147.32 506.29 L146.97 506.47 L145.78 507.64 L145.6 508 L145.6 508.29 L145.54 508.35 L145.6 508.41 L145.6 508.7 L145.78 509.05 L146.97 510.23 L147.32 510.41 L147.62 510.41 L147.68 510.46 L147.74 510.41 L148.04 510.41 L148.39 510.23 L149.58 509.05 L149.76 508.7 L149.76 508.41 L149.82 508.35 L149.76 508.29 L149.76 508 L149.58 507.64 L148.39 506.47 L148.04 506.29 L147.74 506.29ZM160.98 488.37 L160.92 488.43 L160.56 488.43 L157.89 489.31 L157.42 489.55 L157.12 489.84 L155.22 492.66 L155.04 493.07 L154.09 497.77 L154.15 497.83 L154.09 498.01 L154.09 500.83 L154.15 501.01 L154.09 501.06 L155.04 505.76 L155.22 506.18 L157.12 509 L157.42 509.29 L157.89 509.52 L160.56 510.41 L160.92 510.41 L160.98 510.46 L162.88 510.46 L162.94 510.41 L163.3 510.41 L165.97 509.52 L166.44 509.29 L166.74 509 L168.64 506.18 L168.82 505.76 L169.77 501.06 L169.71 501.01 L169.77 500.83 L169.77 498.01 L169.71 497.83 L169.77 497.77 L168.82 493.07 L168.64 492.66 L166.74 489.84 L166.44 489.55 L165.97 489.31 L163.3 488.43 L162.94 488.43 L162.88 488.37ZM161.22 490.72 L162.64 490.72 L164.07 491.43 L164.78 492.13 L165.55 493.66 L166.44 498.01 L166.44 500.83 L165.55 505.18 L164.78 506.7 L164.07 507.41 L162.64 508.11 L161.22 508.11 L159.79 507.41 L159.08 506.7 L158.31 505.18 L157.42 500.83 L157.42 498.01 L158.31 493.66 L159.08 492.13 L159.79 491.43Z" fill="#000" fill-rule="evenodd"/>
<path d="M114.99 225.51 L114.75 225.51 L114.7 225.45 L114.65 225.51 L114.41 225.51 L114.12 225.69 L111.78 228.51 L110.37 229.33 L110.03 229.68 L109.88 230.04 L109.88 230.33 L109.83 230.39 L109.88 230.45 L109.88 230.74 L110.03 231.09 L110.22 231.33 L110.51 231.51 L110.76 231.51 L110.81 231.56 L111.24 231.45 L112.8 230.51 L112.9 230.39 L112.95 230.45 L112.95 245.14 L112.9 245.19 L110.81 245.19 L110.76 245.25 L110.51 245.25 L110.22 245.43 L110.03 245.66 L109.88 246.02 L109.88 246.31 L109.83 246.37 L109.88 246.43 L109.88 246.72 L110.03 247.07 L110.22 247.31 L110.51 247.49 L110.76 247.49 L110.81 247.54 L117.82 247.54 L117.87 247.49 L118.11 247.49 L118.4 247.31 L118.6 247.07 L118.74 246.72 L118.74 246.43 L118.79 246.37 L118.74 246.31 L118.74 246.02 L118.6 245.66 L118.4 245.43 L118.11 245.25 L117.87 245.25 L117.82 245.19 L115.72 245.19 L115.68 245.14 L115.68 226.63 L115.63 226.57 L115.63 226.28 L115.48 225.92 L115.29 225.69ZM132.48 225.45 L132.42 225.51 L132.06 225.51 L129.39 226.39 L128.92 226.63 L128.62 226.92 L126.72 229.74 L126.54 230.15 L125.59 234.85 L125.65 234.91 L125.59 235.09 L125.59 237.91 L125.65 238.09 L125.59 238.14 L126.54 242.84 L126.72 243.26 L128.62 246.08 L128.92 246.37 L129.39 246.6 L132.06 247.49 L132.42 247.49 L132.48 247.54 L134.38 247.54 L134.44 247.49 L134.8 247.49 L137.47 246.6 L137.94 246.37 L138.24 246.08 L140.14 243.26 L140.32 242.84 L141.27 238.14 L141.21 238.09 L141.27 237.91 L141.27 235.09 L141.21 234.91 L141.27 234.85 L140.32 230.15 L140.14 229.74 L138.24 226.92 L137.94 226.63 L137.47 226.39 L134.8 225.51 L134.44 225.51 L134.38 225.45ZM132.72 227.8 L134.14 227.8 L135.57 228.51 L136.28 229.21 L137.05 230.74 L137.94 235.09 L137.94 237.91 L137.05 242.26 L136.28 243.78 L135.57 244.49 L134.14 245.19 L132.72 245.19 L131.29 244.49 L130.58 243.78 L129.81 242.26 L128.92 237.91 L128.92 235.09 L129.81 230.74 L130.58 229.21 L131.29 228.51ZM147.68 243.31 L147.62 243.37 L147.32 243.37 L146.97 243.55 L145.78 244.72 L145.6 245.08 L145.6 245.37 L145.54 245.43 L145.6 245.49 L145.6 245.78 L145.78 246.13 L146.97 247.31 L147.32 247.49 L147.62 247.49 L147.68 247.54 L147.74 247.49 L148.04 247.49 L148.39 247.31 L149.58 246.13 L149.76 245.78 L149.76 245.49 L149.82 245.43 L149.76 245.37 L149.76 245.08 L149.58 244.72 L148.39 243.55 L148.04 243.37 L147.74 243.37ZM160.98 225.45 L160.92 225.51 L160.56 225.51 L157.89 226.39 L157.42 226.63 L157.12 226.92 L155.22 229.74 L155.04 230.15 L154.09 234.85 L154.15 234.91 L154.09 235.09 L154.09 237.91 L154.15 238.09 L154.09 238.14 L155.04 242.84 L155.22 243.26 L157.12 246.08 L157.42 246.37 L157.89 246.6 L160.56 247.49 L160.92 247.49 L160.98 247.54 L162.88 247.54 L162.94 247.49 L163.3 247.49 L165.97 246.6 L166.44 246.37 L166.74 246.08 L168.64 243.26 L168.82 242.84 L169.77 238.14 L169.71 238.09 L169.77 237.91 L169.77 235.09 L169.71 234.91 L169.77 234.85 L168.82 230.15 L168.64 229.74 L166.74 226.92 L166.44 226.63 L165.97 226.39 L163.3 225.51 L162.94 225.51 L162.88 225.45ZM161.22 227.8 L162.64 227.8 L164.07 228.51 L164.78 229.21 L165.55 230.74 L166.44 235.09 L166.44 237.91 L165.55 242.26 L164.78 243.78 L164.07 244.49 L162.64 245.19 L161.22 245.19 L159.79 244.49 L159.08 243.78 L158.31 242.26 L157.42 237.91 L157.42 235.09 L158.31 230.74 L159.08 229.21 L159.79 228.51Z" fill="#000" fill-rule="evenodd"/>
<path d="M114.99 554.15 L114.75 554.15 L114.7 554.09 L114.65 554.15 L114.41 554.15 L114.12 554.33 L111.78 557.15 L110.37 557.97 L110.03 558.32 L109.88 558.68 L109.88 558.97 L109.83 559.03 L109.88 559.09 L109.88 559.38 L110.03 559.73 L110.22 559.97 L110.51 560.15 L110.76 560.15 L110.81 560.2 L111.24 560.09 L112.8 559.15 L112.9 559.03 L112.95 559.09 L112.95 573.78 L112.9 573.83 L110.81 573.83 L110.76 573.89 L110.51 573.89 L110.22 574.07 L110.03 574.3 L109.88 574.66 L109.88 574.95 L109.83 575.01 L109.88 575.07 L109.88 575.36 L110.03 575.71 L110.22 575.95 L110.51 576.13 L110.76 576.13 L110.81 576.18 L117.82 576.18 L117.87 576.13 L118.11 576.13 L118.4 575.95 L118.6 575.71 L118.74 575.36 L118.74 575.07 L118.79 575.01 L118.74 574.95 L118.74 574.66 L118.6 574.3 L118.4 574.07 L118.11 573.89 L117.87 573.89 L117.82 573.83 L115.72 573.83 L115.68 573.78 L115.68 555.27 L115.63 555.21 L115.63 554.92 L115.48 554.56 L115.29 554.33ZM132.48 554.09 L132.42 554.15 L132.06 554.15 L129.39 555.03 L128.92 555.27 L128.62 555.56 L126.72 558.38 L126.54 558.79 L125.59 563.49 L125.65 563.55 L125.59 563.73 L125.59 566.55 L125.65 566.73 L125.59 566.78 L126.54 571.48 L126.72 571.9 L128.62 574.72 L128.92 575.01 L129.39 575.24 L132.06 576.13 L132.42 576.13 L132.48 576.18 L134.38 576.18 L134.44 576.13 L134.8 576.13 L137.47 575.24 L137.94 575.01 L138.24 574.72 L140.14 571.9 L140.32 571.48 L141.27 566.78 L141.21 566.73 L141.27 566.55 L141.27 563.73 L141.21 563.55 L141.27 563.49 L140.32 558.79 L140.14 558.38 L138.24 555.56 L137.94 555.27 L137.47 555.03 L134.8 554.15 L134.44 554.15 L134.38 554.09ZM132.72 556.44 L134.14 556.44 L135.57 557.15 L136.28 557.85 L137.05 559.38 L137.94 563.73 L137.94 566.55 L137.05 570.9 L136.28 572.42 L135.57 573.13 L134.14 573.83 L132.72 573.83 L131.29 573.13 L130.58 572.42 L129.81 570.9 L128.92 566.55 L128.92 563.73 L129.81 559.38 L130.58 557.85 L131.29 557.15ZM147.68 571.95 L147.62 572.01 L147.32 572.01 L146.97 572.19 L145.78 573.36 L145.6 573.72 L145.6 574.01 L145.54 574.07 L145.6 574.13 L145.6 574.42 L145.78 574.77 L146.97 575.95 L147.32 576.13 L147.62 576.13 L147.68 576.18 L147.74 576.13 L148.04 576.13 L148.39 575.95 L149.58 574.77 L149.76 574.42 L149.76 574.13 L149.82 574.07 L149.76 574.01 L149.76 573.72 L149.58 573.36 L148.39 572.19 L148.04 572.01 L147.74 572.01ZM160.98 554.09 L160.92 554.15 L160.56 554.15 L157.89 555.03 L157.42 555.27 L157.12 555.56 L155.22 558.38 L155.04 558.79 L154.09 563.49 L154.15 563.55 L154.09 563.73 L154.09 566.55 L154.15 566.73 L154.09 566.78 L155.04 571.48 L155.22 571.9 L157.12 574.72 L157.42 575.01 L157.89 575.24 L160.56 576.13 L160.92 576.13 L160.98 576.18 L162.88 576.18 L162.94 576.13 L163.3 576.13 L165.97 575.24 L166.44 575.01 L166.74 574.72 L168.64 571.9 L168.82 571.48 L169.77 566.78 L169.71 566.73 L169.77 566.55 L169.77 563.73 L169.71 563.55 L169.77 563.49 L168.82 558.79 L168.64 558.38 L166.74 555.56 L166.44 555.27 L165.97 555.03 L163.3 554.15 L162.94 554.15 L162.88 554.09ZM161.22 556.44 L162.64 556.44 L164.07 557.15 L164.78 557.85 L165.55 559.38 L166.44 563.73 L166.44 566.55 L165.55 570.9 L164.78 572.42 L164.07 573.13 L162.64 573.83 L161.22 573.83 L159.79 573.13 L159.08 572.42 L158.31 570.9 L157.42 566.55 L157.42 563.73 L158.31 559.38 L159.08 557.85 L159.79 557.15Z" fill="#000" fill-rule="evenodd"/>
<path d="M133.99 291.27 L133.75 291.27 L133.7 291.21 L133.65 291.27 L133.41 291.27 L133.12 291.45 L130.78 294.27 L129.37 295.09 L129.03 295.44 L128.88 295.8 L128.88 296.09 L128.83 296.15 L128.88 296.21 L128.88 296.5 L129.03 296.85 L129.22 297.09 L129.51 297.27 L129.76 297.27 L129.81 297.32 L130.24 297.21 L131.8 296.27 L131.9 296.15 L131.95 296.21 L131.95 310.9 L131.9 310.95 L129.81 310.95 L129.76 311.01 L129.51 311.01 L129.22 311.19 L129.03 311.42 L128.88 311.78 L128.88 312.07 L128.83 312.13 L128.88 312.19 L128.88 312.48 L129.03 312.83 L129.22 313.07 L129.51 313.25 L129.76 313.25 L129.81 313.3 L136.82 313.3 L136.87 313.25 L137.11 313.25 L137.4 313.07 L137.6 312.83 L137.74 312.48 L137.74 312.19 L137.79 312.13 L137.74 312.07 L137.74 311.78 L137.6 311.42 L137.4 311.19 L137.11 311.01 L136.87 311.01 L136.82 310.95 L134.72 310.95 L134.68 310.9 L134.68 292.39 L134.63 292.33 L134.63 292.04 L134.48 291.68 L134.29 291.45ZM147.68 309.07 L147.62 309.13 L147.32 309.13 L146.97 309.31 L145.78 310.48 L145.6 310.84 L145.6 311.13 L145.54 311.19 L145.6 311.25 L145.6 311.54 L145.78 311.89 L146.97 313.07 L147.32 313.25 L147.62 313.25 L147.68 313.3 L147.74 313.25 L148.04 313.25 L148.39 313.07 L149.58 311.89 L149.76 311.54 L149.76 311.25 L149.82 311.19 L149.76 311.13 L149.76 310.84 L149.58 310.48 L148.39 309.31 L148.04 309.13 L147.74 309.13ZM160.98 291.21 L160.92 291.27 L160.56 291.27 L157.89 292.15 L157.42 292.39 L157.12 292.68 L155.22 295.5 L155.04 295.91 L154.09 300.61 L154.15 300.67 L154.09 300.85 L154.09 303.67 L154.15 303.85 L154.09 303.9 L155.04 308.6 L155.22 309.02 L157.12 311.84 L157.42 312.13 L157.89 312.36 L160.56 313.25 L160.92 313.25 L160.98 313.3 L162.88 313.3 L162.94 313.25 L163.3 313.25 L165.97 312.36 L166.44 312.13 L166.74 311.84 L168.64 309.02 L168.82 308.6 L169.77 303.9 L169.71 303.85 L169.77 303.67 L169.77 300.85 L169.71 300.67 L169.77 300.61 L168.82 295.91 L168.64 295.5 L166.74 292.68 L166.44 292.39 L165.97 292.15 L163.3 291.27 L162.94 291.27 L162.88 291.21ZM161.22 293.56 L162.64 293.56 L164.07 294.27 L164.78 294.97 L165.55 296.5 L166.44 300.85 L166.44 303.67 L165.55 308.02 L164.78 309.54 L164.07 310.25 L162.64 310.95 L161.22 310.95 L159.79 310.25 L159.08 309.54 L158.31 308.02 L157.42 303.67 L157.42 300.85 L158.31 296.5 L159.08 294.97 L159.79 294.27Z" fill="#000" fill-rule="evenodd"/>
<path d="M133.99 619.87 L133.75 619.87 L133.7 619.81 L133.65 619.87 L133.41 619.87 L133.12 620.05 L130.78 622.87 L129.37 623.69 L129.03 624.04 L128.88 624.4 L128.88 624.69 L128.83 624.75 L128.88 624.81 L128.88 625.1 L129.03 625.45 L129.22 625.69 L129.51 625.87 L129.76 625.87 L129.81 625.92 L130.24 625.81 L131.8 624.87 L131.9 624.75 L131.95 624.81 L131.95 639.5 L131.9 639.55 L129.81 639.55 L129.76 639.61 L129.51 639.61 L129.22 639.79 L129.03 640.02 L128.88 640.38 L128.88 640.67 L128.83 640.73 L128.88 640.79 L128.88 641.08 L129.03 641.43 L129.22 641.67 L129.51 641.85 L129.76 641.85 L129.81 641.9 L136.82 641.9 L136.87 641.85 L137.11 641.85 L137.4 641.67 L137.6 641.43 L137.74 641.08 L137.74 640.79 L137.79 640.73 L137.74 640.67 L137.74 640.38 L137.6 640.02 L137.4 639.79 L137.11 639.61 L136.87 639.61 L136.82 639.55 L134.72 639.55 L134.68 639.5 L134.68 620.99 L134.63 620.93 L134.63 620.64 L134.48 620.28 L134.29 620.05ZM147.68 637.67 L147.62 637.73 L147.32 637.73 L146.97 637.91 L145.78 639.08 L145.6 639.44 L145.6 639.73 L145.54 639.79 L145.6 639.85 L145.6 640.14 L145.78 640.49 L146.97 641.67 L147.32 641.85 L147.62 641.85 L147.68 641.9 L147.74 641.85 L148.04 641.85 L148.39 641.67 L149.58 640.49 L149.76 640.14 L149.76 639.85 L149.82 639.79 L149.76 639.73 L149.76 639.44 L149.58 639.08 L148.39 637.91 L148.04 637.73 L147.74 637.73ZM160.98 619.81 L160.92 619.87 L160.56 619.87 L157.89 620.75 L157.42 620.99 L157.12 621.28 L155.22 624.1 L155.04 624.51 L154.09 629.21 L154.15 629.27 L154.09 629.45 L154.09 632.27 L154.15 632.45 L154.09 632.5 L155.04 637.2 L155.22 637.62 L157.12 640.44 L157.42 640.73 L157.89 640.96 L160.56 641.85 L160.92 641.85 L160.98 641.9 L162.88 641.9 L162.94 641.85 L163.3 641.85 L165.97 640.96 L166.44 640.73 L166.74 640.44 L168.64 637.62 L168.82 637.2 L169.77 632.5 L169.71 632.45 L169.77 632.27 L169.77 629.45 L169.71 629.27 L169.77 629.21 L168.82 624.51 L168.64 624.1 L166.74 621.28 L166.44 620.99 L165.97 620.75 L163.3 619.87 L162.94 619.87 L162.88 619.81ZM161.22 622.16 L162.64 622.16 L164.07 622.87 L164.78 623.57 L165.55 625.1 L166.44 629.45 L166.44 632.27 L165.55 636.62 L164.78 638.14 L164.07 638.85 L162.64 639.55 L161.22 639.55 L159.79 638.85 L159.08 638.14 L158.31 636.62 L157.42 632.27 L157.42 629.45 L158.31 625.1 L159.08 623.57 L159.79 622.87Z" fill="#000" fill-rule="evenodd"/>
<path d="M132.48 356.97 L132.42 357.03 L132.06 357.03 L129.39 357.91 L128.92 358.15 L128.62 358.44 L126.72 361.26 L126.54 361.67 L125.59 366.37 L125.65 366.43 L125.59 366.61 L125.59 369.43 L125.65 369.61 L125.59 369.66 L126.54 374.36 L126.72 374.78 L128.62 377.6 L128.92 377.89 L129.39 378.12 L132.06 379.01 L132.42 379.01 L132.48 379.06 L134.38 379.06 L134.44 379.01 L134.8 379.01 L137.47 378.12 L137.94 377.89 L138.24 377.6 L140.14 374.78 L140.32 374.36 L141.27 369.66 L141.21 369.61 L141.27 369.43 L141.27 366.61 L141.21 366.43 L141.27 366.37 L140.32 361.67 L140.14 361.26 L138.24 358.44 L137.94 358.15 L137.47 357.91 L134.8 357.03 L134.44 357.03 L134.38 356.97ZM132.72 359.32 L134.14 359.32 L135.57 360.03 L136.28 360.73 L137.05 362.26 L137.94 366.61 L137.94 369.43 L137.05 373.78 L136.28 375.3 L135.57 376.01 L134.14 376.71 L132.72 376.71 L131.29 376.01 L130.58 375.3 L129.81 373.78 L128.92 369.43 L128.92 366.61 L129.81 362.26 L130.58 360.73 L131.29 360.03ZM147.68 374.83 L147.62 374.89 L147.32 374.89 L146.97 375.07 L145.78 376.24 L145.6 376.6 L145.6 376.89 L145.54 376.95 L145.6 377.01 L145.6 377.3 L145.78 377.65 L146.97 378.83 L147.32 379.01 L147.62 379.01 L147.68 379.06 L147.74 379.01 L148.04 379.01 L148.39 378.83 L149.58 377.65 L149.76 377.3 L149.76 377.01 L149.82 376.95 L149.76 376.89 L149.76 376.6 L149.58 376.24 L148.39 375.07 L148.04 374.89 L147.74 374.89ZM162.49 357.03 L162.25 357.03 L162.2 356.97 L162.15 357.03 L161.91 357.03 L161.62 357.21 L159.28 360.03 L157.87 360.85 L157.53 361.2 L157.38 361.56 L157.38 361.85 L157.33 361.91 L157.38 361.97 L157.38 362.26 L157.53 362.61 L157.72 362.85 L158.01 363.03 L158.26 363.03 L158.31 363.08 L158.74 362.97 L160.3 362.03 L160.4 361.91 L160.45 361.97 L160.45 376.66 L160.4 376.71 L158.31 376.71 L158.26 376.77 L158.01 376.77 L157.72 376.95 L157.53 377.18 L157.38 377.54 L157.38 377.83 L157.33 377.89 L157.38 377.95 L157.38 378.24 L157.53 378.59 L157.72 378.83 L158.01 379.01 L158.26 379.01 L158.31 379.06 L165.32 379.06 L165.37 379.01 L165.61 379.01 L165.9 378.83 L166.1 378.59 L166.24 378.24 L166.24 377.95 L166.29 377.89 L166.24 377.83 L166.24 377.54 L166.1 377.18 L165.9 376.95 L165.61 376.77 L165.37 376.77 L165.32 376.71 L163.22 376.71 L163.18 376.66 L163.18 358.15 L163.13 358.09 L163.13 357.8 L162.98 357.44 L162.79 357.21Z" fill="#000" fill-rule="evenodd"/>
<path d="M132.48 685.53 L132.42 685.59 L132.06 685.59 L129.39 686.47 L128.92 686.71 L128.62 687 L126.72 689.82 L126.54 690.23 L125.59 694.93 L125.65 694.99 L125.59 695.17 L125.59 697.99 L125.65 698.17 L125.59 698.22 L126.54 702.92 L126.72 703.34 L128.62 706.16 L128.92 706.45 L129.39 706.68 L132.06 707.57 L132.42 707.57 L132.48 707.62 L134.38 707.62 L134.44 707.57 L134.8 707.57 L137.47 706.68 L137.94 706.45 L138.24 706.16 L140.14 703.34 L140.32 702.92 L141.27 698.22 L141.21 698.17 L141.27 697.99 L141.27 695.17 L141.21 694.99 L141.27 694.93 L140.32 690.23 L140.14 689.82 L138.24 687 L137.94 686.71 L137.47 686.47 L134.8 685.59 L134.44 685.59 L134.38 685.53ZM132.72 687.88 L134.14 687.88 L135.57 688.59 L136.28 689.29 L137.05 690.82 L137.94 695.17 L137.94 697.99 L137.05 702.34 L136.28 703.86 L135.57 704.57 L134.14 705.27 L132.72 705.27 L131.29 704.57 L130.58 703.86 L129.81 702.34 L128.92 697.99 L128.92 695.17 L129.81 690.82 L130.58 689.29 L131.29 688.59ZM147.68 703.39 L147.62 703.45 L147.32 703.45 L146.97 703.63 L145.78 704.8 L145.6 705.16 L145.6 705.45 L145.54 705.51 L145.6 705.57 L145.6 705.86 L145.78 706.21 L146.97 707.39 L147.32 707.57 L147.62 707.57 L147.68 707.62 L147.74 707.57 L148.04 707.57 L148.39 707.39 L149.58 706.21 L149.76 705.86 L149.76 705.57 L149.82 705.51 L149.76 705.45 L149.76 705.16 L149.58 704.8 L148.39 703.63 L148.04 703.45 L147.74 703.45ZM162.49 685.59 L162.25 685.59 L162.2 685.53 L162.15 685.59 L161.91 685.59 L161.62 685.77 L159.28 688.59 L157.87 689.41 L157.53 689.76 L157.38 690.12 L157.38 690.41 L157.33 690.47 L157.38 690.53 L157.38 690.82 L157.53 691.17 L157.72 691.41 L158.01 691.59 L158.26 691.59 L158.31 691.64 L158.74 691.53 L160.3 690.59 L160.4 690.47 L160.45 690.53 L160.45 705.22 L160.4 705.27 L158.31 705.27 L158.26 705.33 L158.01 705.33 L157.72 705.51 L157.53 705.74 L157.38 706.1 L157.38 706.39 L157.33 706.45 L157.38 706.51 L157.38 706.8 L157.53 707.15 L157.72 707.39 L158.01 707.57 L158.26 707.57 L158.31 707.62 L165.32 707.62 L165.37 707.57 L165.61 707.57 L165.9 707.39 L166.1 707.15 L166.24 706.8 L166.24 706.51 L166.29 706.45 L166.24 706.39 L166.24 706.1 L166.1 705.74 L165.9 705.51 L165.61 705.33 L165.37 705.33 L165.32 705.27 L163.22 705.27 L163.18 705.22 L163.18 686.71 L163.13 686.65 L163.13 686.36 L162.98 686 L162.79 685.77Z" fill="#000" fill-rule="evenodd"/>
<path d="M181.39 737.47 L181.15 737.47 L181.1 737.41 L181.05 737.47 L180.81 737.47 L180.52 737.65 L178.18 740.47 L176.77 741.29 L176.43 741.64 L176.28 742 L176.28 742.29 L176.23 742.35 L176.28 742.41 L176.28 742.7 L176.43 743.05 L176.62 743.29 L176.91 743.47 L177.16 743.47 L177.21 743.52 L177.64 743.41 L179.2 742.47 L179.3 742.35 L179.35 742.41 L179.35 757.1 L179.3 757.15 L177.21 757.15 L177.16 757.21 L176.91 757.21 L176.62 757.39 L176.43 757.62 L176.28 757.98 L176.28 758.27 L176.23 758.33 L176.28 758.39 L176.28 758.68 L176.43 759.03 L176.62 759.27 L176.91 759.45 L177.16 759.45 L177.21 759.5 L184.22 759.5 L184.27 759.45 L184.51 759.45 L184.8 759.27 L185 759.03 L185.14 758.68 L185.14 758.39 L185.19 758.33 L185.14 758.27 L185.14 757.98 L185 757.62 L184.8 757.39 L184.51 757.21 L184.27 757.21 L184.22 757.15 L182.12 757.15 L182.08 757.1 L182.08 738.59 L182.03 738.53 L182.03 738.24 L181.88 737.88 L181.69 737.65Z" fill="#000" fill-rule="evenodd"/>
<path d="M469.04 737.47 L468.8 737.47 L468.75 737.41 L468.7 737.47 L468.46 737.47 L468.17 737.65 L465.83 740.47 L464.42 741.29 L464.08 741.64 L463.93 742 L463.93 742.29 L463.88 742.35 L463.93 742.41 L463.93 742.7 L464.08 743.05 L464.27 743.29 L464.56 743.47 L464.81 743.47 L464.86 743.52 L465.29 743.41 L466.85 742.47 L466.95 742.35 L467 742.41 L467 757.1 L466.95 757.15 L464.86 757.15 L464.81 757.21 L464.56 757.21 L464.27 757.39 L464.08 757.62 L463.93 757.98 L463.93 758.27 L463.88 758.33 L463.93 758.39 L463.93 758.68 L464.08 759.03 L464.27 759.27 L464.56 759.45 L464.81 759.45 L464.86 759.5 L471.87 759.5 L471.92 759.45 L472.16 759.45 L472.45 759.27 L472.65 759.03 L472.79 758.68 L472.79 758.39 L472.84 758.33 L472.79 758.27 L472.79 757.98 L472.65 757.62 L472.45 757.39 L472.16 757.21 L471.92 757.21 L471.87 757.15 L469.77 757.15 L469.73 757.1 L469.73 738.59 L469.68 738.53 L469.68 738.24 L469.53 737.88 L469.34 737.65ZM486.53 737.41 L486.47 737.47 L486.11 737.47 L483.44 738.35 L482.97 738.59 L482.67 738.88 L480.77 741.7 L480.59 742.11 L479.64 746.81 L479.7 746.87 L479.64 747.05 L479.64 749.87 L479.7 750.05 L479.64 750.1 L480.59 754.8 L480.77 755.22 L482.67 758.04 L482.97 758.33 L483.44 758.56 L486.11 759.45 L486.47 759.45 L486.53 759.5 L488.43 759.5 L488.49 759.45 L488.85 759.45 L491.52 758.56 L491.99 758.33 L492.29 758.04 L494.19 755.22 L494.37 754.8 L495.32 750.1 L495.26 750.05 L495.32 749.87 L495.32 747.05 L495.26 746.87 L495.32 746.81 L494.37 742.11 L494.19 741.7 L492.29 738.88 L491.99 738.59 L491.52 738.35 L488.85 737.47 L488.49 737.47 L488.43 737.41ZM486.77 739.76 L488.19 739.76 L489.62 740.47 L490.33 741.17 L491.1 742.7 L491.99 747.05 L491.99 749.87 L491.1 754.22 L490.33 755.74 L489.62 756.45 L488.19 757.15 L486.77 757.15 L485.34 756.45 L484.63 755.74 L483.86 754.22 L482.97 749.87 L482.97 747.05 L483.86 742.7 L484.63 741.17 L485.34 740.47Z" fill="#000" fill-rule="evenodd"/>
<path d="M756.69 737.47 L756.45 737.47 L756.4 737.41 L756.35 737.47 L756.11 737.47 L755.82 737.65 L753.48 740.47 L752.07 741.29 L751.73 741.64 L751.58 742 L751.58 742.29 L751.53 742.35 L751.58 742.41 L751.58 742.7 L751.73 743.05 L751.92 743.29 L752.21 743.47 L752.46 743.47 L752.51 743.52 L752.94 743.41 L754.5 742.47 L754.6 742.35 L754.65 742.41 L754.65 757.1 L754.6 757.15 L752.51 757.15 L752.46 757.21 L752.21 757.21 L751.92 757.39 L751.73 757.62 L751.58 757.98 L751.58 758.27 L751.53 758.33 L751.58 758.39 L751.58 758.68 L751.73 759.03 L751.92 759.27 L752.21 759.45 L752.46 759.45 L752.51 759.5 L759.52 759.5 L759.57 759.45 L759.81 759.45 L760.1 759.27 L760.3 759.03 L760.44 758.68 L760.44 758.39 L760.49 758.33 L760.44 758.27 L760.44 757.98 L760.3 757.62 L760.1 757.39 L759.81 757.21 L759.57 757.21 L759.52 757.15 L757.42 757.15 L757.38 757.1 L757.38 738.59 L757.33 738.53 L757.33 738.24 L757.18 737.88 L756.99 737.65ZM774.18 737.41 L774.12 737.47 L773.76 737.47 L771.09 738.35 L770.62 738.59 L770.32 738.88 L768.42 741.7 L768.24 742.11 L767.29 746.81 L767.35 746.87 L767.29 747.05 L767.29 749.87 L767.35 750.05 L767.29 750.1 L768.24 754.8 L768.42 755.22 L770.32 758.04 L770.62 758.33 L771.09 758.56 L773.76 759.45 L774.12 759.45 L774.18 759.5 L776.08 759.5 L776.14 759.45 L776.5 759.45 L779.17 758.56 L779.64 758.33 L779.94 758.04 L781.84 755.22 L782.02 754.8 L782.97 750.1 L782.91 750.05 L782.97 749.87 L782.97 747.05 L782.91 746.87 L782.97 746.81 L782.02 742.11 L781.84 741.7 L779.94 738.88 L779.64 738.59 L779.17 738.35 L776.5 737.47 L776.14 737.47 L776.08 737.41ZM774.42 739.76 L775.84 739.76 L777.27 740.47 L777.98 741.17 L778.75 742.7 L779.64 747.05 L779.64 749.87 L778.75 754.22 L777.98 755.74 L777.27 756.45 L775.84 757.15 L774.42 757.15 L772.99 756.45 L772.28 755.74 L771.51 754.22 L770.62 749.87 L770.62 747.05 L771.51 742.7 L772.28 741.17 L772.99 740.47ZM793.18 737.41 L793.12 737.47 L792.76 737.47 L790.09 738.35 L789.62 738.59 L789.32 738.88 L787.42 741.7 L787.24 742.11 L786.29 746.81 L786.35 746.87 L786.29 747.05 L786.29 749.87 L786.35 750.05 L786.29 750.1 L787.24 754.8 L787.42 755.22 L789.32 758.04 L789.62 758.33 L790.09 758.56 L792.76 759.45 L793.12 759.45 L793.18 759.5 L795.08 759.5 L795.14 759.45 L795.5 759.45 L798.17 758.56 L798.64 758.33 L798.94 758.04 L800.84 755.22 L801.02 754.8 L801.97 750.1 L801.91 750.05 L801.97 749.87 L801.97 747.05 L801.91 746.87 L801.97 746.81 L801.02 742.11 L800.84 741.7 L798.94 738.88 L798.64 738.59 L798.17 738.35 L795.5 737.47 L795.14 737.47 L795.08 737.41ZM793.42 739.76 L794.84 739.76 L796.27 740.47 L796.98 741.17 L797.75 742.7 L798.64 747.05 L798.64 749.87 L797.75 754.22 L796.98 755.74 L796.27 756.45 L794.84 757.15 L793.42 757.15 L791.99 756.45 L791.28 755.74 L790.51 754.22 L789.62 749.87 L789.62 747.05 L790.51 742.7 L791.28 741.17 L791.99 740.47Z" fill="#000" fill-rule="evenodd"/>
<path d="M338.69 538.85 L338.34 538.67 L338.04 538.67 L337.98 538.61 L337.92 538.67 L337.62 538.67 L337.27 538.85 L337.03 539.08 L336.79 539.55 L336.5 540.44 L335.84 539.79 L335.37 539.55 L332.7 538.67 L332.34 538.67 L332.28 538.61 L329.43 538.61 L329.37 538.67 L329.01 538.67 L326.34 539.55 L325.87 539.79 L323.73 541.9 L323.55 542.26 L323.55 542.55 L323.49 542.61 L323.49 544.49 L323.55 544.55 L323.55 544.84 L324.68 547.07 L325.87 548.25 L328.24 549.42 L333.7 551.19 L335.37 552.01 L336.79 553.42 L336.79 556.24 L335.43 557.59 L333.11 558.35 L330.5 558.35 L328.18 557.59 L326.64 556.06 L325.87 553.65 L325.63 553.18 L325.39 552.95 L325.04 552.77 L324.74 552.77 L324.68 552.71 L324.62 552.77 L324.32 552.77 L323.97 552.95 L323.73 553.18 L323.55 553.54 L323.55 553.83 L323.49 553.89 L323.49 559.53 L323.55 559.59 L323.55 559.88 L323.73 560.23 L323.97 560.47 L324.32 560.65 L324.62 560.65 L324.68 560.7 L324.74 560.65 L325.04 560.65 L325.39 560.47 L325.63 560.23 L325.87 559.76 L326.16 558.88 L326.82 559.53 L327.29 559.76 L329.96 560.65 L330.32 560.65 L330.38 560.7 L333.23 560.7 L333.29 560.65 L333.65 560.65 L336.32 559.76 L336.79 559.53 L338.93 557.41 L339.11 557.06 L339.11 556.77 L339.17 556.71 L339.17 552.95 L339.05 552.42 L337.98 550.36 L336.79 549.19 L334.71 548.13 L328.95 546.25 L327.29 545.43 L325.87 544.02 L325.87 543.08 L327.23 541.73 L329.55 540.96 L332.16 540.96 L334.48 541.73 L336.02 543.26 L336.79 545.66 L337.03 546.13 L337.27 546.37 L337.62 546.55 L337.92 546.55 L337.98 546.6 L338.04 546.55 L338.34 546.55 L338.69 546.37 L338.93 546.13 L339.11 545.78 L339.11 545.49 L339.17 545.43 L339.17 539.79 L339.11 539.73 L339.11 539.44 L338.93 539.08ZM341.78 545.66 L341.6 546.02 L341.6 546.31 L341.54 546.37 L341.6 546.43 L341.6 546.72 L341.78 547.07 L342.02 547.31 L342.37 547.49 L342.67 547.49 L342.73 547.54 L344.33 547.54 L344.39 547.6 L344.39 556.71 L344.51 557.24 L345.46 559.12 L345.82 559.53 L346.29 559.76 L348.96 560.65 L349.32 560.65 L349.38 560.7 L351.28 560.7 L351.34 560.65 L351.7 560.65 L354.37 559.76 L354.78 559.53 L354.9 559.59 L354.9 559.88 L355.08 560.23 L355.32 560.47 L355.67 560.65 L355.97 560.65 L356.03 560.7 L359.83 560.7 L359.89 560.65 L360.19 560.65 L360.54 560.47 L360.78 560.23 L360.96 559.88 L360.96 559.59 L361.02 559.53 L360.96 559.47 L360.96 559.18 L360.78 558.82 L360.54 558.59 L360.19 558.41 L359.89 558.41 L359.83 558.35 L358.23 558.35 L358.17 558.3 L358.17 546.37 L358.11 546.31 L358.11 546.02 L357.93 545.66 L357.69 545.43 L357.34 545.25 L357.04 545.25 L356.98 545.19 L353.18 545.19 L353.12 545.25 L352.82 545.25 L352.47 545.43 L352.23 545.66 L352.05 546.02 L352.05 546.31 L351.99 546.37 L352.05 546.43 L352.05 546.72 L352.23 547.07 L352.47 547.31 L352.82 547.49 L353.12 547.49 L353.18 547.54 L354.78 547.54 L354.84 547.6 L354.84 556.24 L353.48 557.59 L351.16 558.35 L349.62 558.35 L348.43 557.77 L347.72 556.47 L347.72 546.37 L347.66 546.31 L347.66 546.02 L347.48 545.66 L347.24 545.43 L346.89 545.25 L346.59 545.25 L346.53 545.19 L342.73 545.19 L342.67 545.25 L342.37 545.25 L342.02 545.43ZM362.92 538.85 L362.68 539.08 L362.5 539.44 L362.5 539.73 L362.44 539.79 L362.5 539.85 L362.5 540.14 L362.68 540.49 L362.92 540.73 L363.27 540.91 L363.57 540.91 L363.63 540.96 L365.23 540.96 L365.29 541.02 L365.29 559.53 L365.35 559.59 L365.35 559.88 L365.53 560.23 L365.77 560.47 L366.12 560.65 L366.42 560.65 L366.48 560.7 L366.9 560.59 L367.43 560.7 L367.49 560.65 L367.79 560.65 L368.14 560.47 L368.38 560.23 L368.56 559.88 L368.56 559.59 L368.68 559.53 L368.8 559.65 L370.87 560.65 L371.17 560.65 L371.23 560.7 L373.13 560.7 L373.19 560.65 L373.55 560.65 L376.22 559.76 L376.69 559.53 L378.83 557.41 L379.07 556.94 L379.96 554.3 L379.96 553.95 L380.02 553.89 L380.02 552.01 L379.96 551.95 L379.96 551.6 L379.07 548.95 L378.83 548.48 L376.69 546.37 L376.22 546.13 L373.55 545.25 L373.19 545.25 L373.13 545.19 L371.23 545.19 L371.17 545.25 L370.87 545.25 L368.8 546.25 L368.68 546.37 L368.62 546.31 L368.62 539.79 L368.56 539.73 L368.56 539.44 L368.38 539.08 L368.14 538.85 L367.79 538.67 L367.49 538.67 L367.43 538.61 L363.63 538.61 L363.57 538.67 L363.27 538.67ZM371.47 547.54 L372.89 547.54 L374.32 548.25 L375.92 549.84 L376.69 552.13 L376.69 553.77 L375.92 556.06 L374.32 557.65 L372.89 558.35 L371.47 558.35 L370.04 557.65 L368.62 556.24 L368.62 549.66 L370.04 548.25ZM399.14 538.67 L398.84 538.67 L398.78 538.61 L383.58 538.61 L383.52 538.67 L383.22 538.67 L382.87 538.85 L382.63 539.08 L382.45 539.44 L382.45 539.73 L382.39 539.79 L382.45 539.85 L382.45 540.14 L382.63 540.49 L382.87 540.73 L383.22 540.91 L383.52 540.91 L383.58 540.96 L385.18 540.96 L385.24 541.02 L385.24 558.3 L385.18 558.35 L383.58 558.35 L383.52 558.41 L383.22 558.41 L382.87 558.59 L382.63 558.82 L382.45 559.18 L382.45 559.47 L382.39 559.53 L382.45 559.59 L382.45 559.88 L382.63 560.23 L382.87 560.47 L383.22 560.65 L383.52 560.65 L383.58 560.7 L390.23 560.7 L390.29 560.65 L390.59 560.65 L390.94 560.47 L391.18 560.23 L391.36 559.88 L391.36 559.59 L391.42 559.53 L391.36 559.47 L391.36 559.18 L391.18 558.82 L390.94 558.59 L390.59 558.41 L390.29 558.41 L390.23 558.35 L388.63 558.35 L388.57 558.3 L388.57 550.42 L388.63 550.36 L391.83 550.36 L391.89 550.42 L391.89 552.95 L391.95 553.01 L391.95 553.3 L392.13 553.65 L392.37 553.89 L392.72 554.07 L393.02 554.07 L393.08 554.12 L393.14 554.07 L393.44 554.07 L393.79 553.89 L394.03 553.65 L394.21 553.3 L394.21 553.01 L394.27 552.95 L394.27 545.43 L394.21 545.37 L394.21 545.08 L394.03 544.72 L393.79 544.49 L393.44 544.31 L393.14 544.31 L393.08 544.25 L393.02 544.31 L392.72 544.31 L392.37 544.49 L392.13 544.72 L391.95 545.08 L391.95 545.37 L391.89 545.43 L391.89 547.96 L391.83 548.01 L388.63 548.01 L388.57 547.96 L388.57 541.02 L388.63 540.96 L396.76 540.96 L396.88 541.14 L396.88 541.43 L396.94 541.49 L396.94 541.79 L397 541.85 L397 542.14 L397.06 542.2 L397.06 542.49 L397.12 542.55 L397.12 542.84 L397.18 542.9 L397.18 543.2 L397.24 543.26 L397.24 543.55 L397.3 543.61 L397.3 543.9 L397.65 545.78 L397.83 546.13 L398.07 546.37 L398.42 546.55 L398.72 546.55 L398.78 546.6 L398.84 546.55 L399.14 546.55 L399.49 546.37 L399.73 546.13 L399.91 545.78 L399.91 545.49 L399.97 545.43 L399.97 539.79 L399.91 539.73 L399.91 539.44 L399.73 539.08 L399.49 538.85ZM402.22 545.25 L401.87 545.43 L401.63 545.66 L401.45 546.02 L401.45 546.31 L401.39 546.37 L401.45 546.43 L401.45 546.72 L401.63 547.07 L401.87 547.31 L402.22 547.49 L402.52 547.49 L402.58 547.54 L404.18 547.54 L404.24 547.6 L404.24 558.3 L404.18 558.35 L402.58 558.35 L402.52 558.41 L402.22 558.41 L401.87 558.59 L401.63 558.82 L401.45 559.18 L401.45 559.47 L401.39 559.53 L401.45 559.59 L401.45 559.88 L401.63 560.23 L401.87 560.47 L402.22 560.65 L402.52 560.65 L402.58 560.7 L409.23 560.7 L409.29 560.65 L409.59 560.65 L409.94 560.47 L410.18 560.23 L410.36 559.88 L410.36 559.59 L410.42 559.53 L410.36 559.47 L410.36 559.18 L410.18 558.82 L409.94 558.59 L409.59 558.41 L409.29 558.41 L409.23 558.35 L407.63 558.35 L407.57 558.3 L407.57 546.37 L407.51 546.31 L407.51 546.02 L407.33 545.66 L407.09 545.43 L406.74 545.25 L406.44 545.25 L406.38 545.19 L402.58 545.19 L402.52 545.25ZM405.43 538.61 L405.37 538.67 L405.07 538.67 L404.72 538.85 L403.53 540.02 L403.35 540.38 L403.35 540.67 L403.29 540.73 L403.35 540.79 L403.35 541.08 L403.53 541.43 L404.72 542.61 L405.07 542.79 L405.37 542.79 L405.43 542.84 L405.49 542.79 L405.79 542.79 L406.14 542.61 L407.33 541.43 L407.51 541.08 L407.51 540.79 L407.57 540.73 L407.51 540.67 L407.51 540.38 L407.33 540.02 L406.14 538.85 L405.79 538.67 L405.49 538.67ZM412.08 545.66 L411.9 546.02 L411.9 546.31 L411.84 546.37 L411.9 546.43 L411.9 546.72 L412.08 547.07 L412.32 547.31 L412.67 547.49 L412.97 547.49 L413.03 547.54 L414.63 547.54 L414.69 547.6 L414.69 558.3 L414.63 558.35 L413.03 558.35 L412.97 558.41 L412.67 558.41 L412.32 558.59 L412.08 558.82 L411.9 559.18 L411.9 559.47 L411.84 559.53 L411.9 559.59 L411.9 559.88 L412.08 560.23 L412.32 560.47 L412.67 560.65 L412.97 560.65 L413.03 560.7 L419.68 560.7 L419.74 560.65 L420.04 560.65 L420.39 560.47 L420.63 560.23 L420.81 559.88 L420.81 559.59 L420.87 559.53 L420.81 559.47 L420.81 559.18 L420.63 558.82 L420.39 558.59 L420.04 558.41 L419.74 558.41 L419.68 558.35 L418.08 558.35 L418.02 558.3 L418.02 549.66 L419.38 548.31 L421.7 547.54 L423.24 547.54 L424.43 548.13 L425.14 549.42 L425.14 558.3 L425.08 558.35 L423.48 558.35 L423.42 558.41 L423.12 558.41 L422.77 558.59 L422.53 558.82 L422.35 559.18 L422.35 559.47 L422.29 559.53 L422.35 559.59 L422.35 559.88 L422.53 560.23 L422.77 560.47 L423.12 560.65 L423.42 560.65 L423.48 560.7 L430.13 560.7 L430.19 560.65 L430.49 560.65 L430.84 560.47 L431.08 560.23 L431.26 559.88 L431.26 559.59 L431.32 559.53 L431.26 559.47 L431.26 559.18 L431.08 558.82 L430.84 558.59 L430.49 558.41 L430.19 558.41 L430.13 558.35 L428.53 558.35 L428.47 558.3 L428.47 549.19 L428.35 548.66 L427.4 546.78 L427.04 546.37 L426.57 546.13 L423.9 545.25 L423.54 545.25 L423.48 545.19 L421.58 545.19 L421.52 545.25 L421.16 545.25 L418.49 546.13 L418.08 546.37 L417.96 546.31 L417.96 546.02 L417.78 545.66 L417.54 545.43 L417.19 545.25 L416.89 545.25 L416.83 545.19 L413.03 545.19 L412.97 545.25 L412.67 545.25 L412.32 545.43ZM443.07 538.67 L442.72 538.85 L442.48 539.08 L442.3 539.44 L442.3 539.73 L442.24 539.79 L442.3 539.85 L442.3 540.14 L442.48 540.49 L442.72 540.73 L443.07 540.91 L443.37 540.91 L443.43 540.96 L445.03 540.96 L445.09 541.02 L445.09 546.31 L445.03 546.37 L444.91 546.25 L442.84 545.25 L442.54 545.25 L442.48 545.19 L440.58 545.19 L440.52 545.25 L440.16 545.25 L437.49 546.13 L437.02 546.37 L434.88 548.48 L434.64 548.95 L433.75 551.6 L433.75 551.95 L433.69 552.01 L433.69 553.89 L433.75 553.95 L433.75 554.3 L434.64 556.94 L434.88 557.41 L437.02 559.53 L437.49 559.76 L440.16 560.65 L440.52 560.65 L440.58 560.7 L442.48 560.7 L443.01 560.59 L445.09 559.53 L445.15 559.59 L445.15 559.88 L445.33 560.23 L445.57 560.47 L445.92 560.65 L446.22 560.65 L446.28 560.7 L450.08 560.7 L450.14 560.65 L450.44 560.65 L450.79 560.47 L451.03 560.23 L451.21 559.88 L451.21 559.59 L451.27 559.53 L451.21 559.47 L451.21 559.18 L451.03 558.82 L450.79 558.59 L450.44 558.41 L450.14 558.41 L450.08 558.35 L448.48 558.35 L448.42 558.3 L448.42 539.79 L448.36 539.73 L448.36 539.44 L448.18 539.08 L447.94 538.85 L447.59 538.67 L447.29 538.67 L447.23 538.61 L443.43 538.61 L443.37 538.67ZM440.82 547.54 L442.24 547.54 L443.67 548.25 L445.09 549.66 L445.09 556.24 L443.67 557.65 L442.24 558.35 L440.82 558.35 L439.39 557.65 L437.79 556.06 L437.02 553.77 L437.02 552.13 L437.79 549.84 L439.39 548.25Z" fill="#000" fill-rule="evenodd"/>
<path d="M339.29 572.97 L338.99 572.97 L338.93 572.91 L338.87 572.97 L338.57 572.97 L338.22 573.15 L337.98 573.38 L337.74 573.85 L337.45 574.74 L336.79 574.09 L336.32 573.85 L333.65 572.97 L333.29 572.97 L333.23 572.91 L331.33 572.91 L331.27 572.97 L330.91 572.97 L328.24 573.85 L327.77 574.09 L325.51 576.38 L324.56 578.26 L323.55 581.2 L323.55 581.55 L323.49 581.61 L323.49 586.31 L323.55 586.37 L323.55 586.72 L324.44 589.36 L325.51 591.54 L327.77 593.83 L328.24 594.06 L330.91 594.95 L331.27 594.95 L331.33 595 L333.23 595 L333.29 594.95 L333.65 594.95 L336.32 594.06 L336.79 593.83 L339.05 591.54 L340 589.66 L340.12 589.13 L340.06 589.07 L340.06 588.78 L339.88 588.42 L339.64 588.19 L339.29 588.01 L338.99 588.01 L338.93 587.95 L338.87 588.01 L338.57 588.01 L338.22 588.19 L337.98 588.42 L337.03 590.3 L335.43 591.89 L333.11 592.65 L331.57 592.65 L330.14 591.95 L328.48 590.3 L327.65 588.66 L326.82 586.19 L326.82 581.73 L327.65 579.26 L328.48 577.61 L330.14 575.97 L331.57 575.26 L333.11 575.26 L335.43 576.03 L336.97 577.56 L337.74 579.96 L337.98 580.43 L338.22 580.67 L338.57 580.85 L338.87 580.85 L338.93 580.9 L338.99 580.85 L339.29 580.85 L339.64 580.67 L339.88 580.43 L340.06 580.08 L340.06 579.79 L340.12 579.73 L340.12 574.09 L340.06 574.03 L340.06 573.74 L339.88 573.38 L339.64 573.15ZM343.32 579.55 L342.97 579.73 L342.73 579.96 L342.55 580.32 L342.55 580.61 L342.49 580.67 L342.55 580.73 L342.55 581.02 L342.73 581.37 L342.97 581.61 L343.32 581.79 L343.62 581.79 L343.68 581.84 L345.28 581.84 L345.34 581.9 L345.34 592.6 L345.28 592.65 L343.68 592.65 L343.62 592.71 L343.32 592.71 L342.97 592.89 L342.73 593.12 L342.55 593.48 L342.55 593.77 L342.49 593.83 L342.55 593.89 L342.55 594.18 L342.73 594.53 L342.97 594.77 L343.32 594.95 L343.62 594.95 L343.68 595 L350.33 595 L350.39 594.95 L350.69 594.95 L351.04 594.77 L351.28 594.53 L351.46 594.18 L351.46 593.89 L351.52 593.83 L351.46 593.77 L351.46 593.48 L351.28 593.12 L351.04 592.89 L350.69 592.71 L350.39 592.71 L350.33 592.65 L348.73 592.65 L348.67 592.6 L348.67 580.67 L348.61 580.61 L348.61 580.32 L348.43 579.96 L348.19 579.73 L347.84 579.55 L347.54 579.55 L347.48 579.49 L343.68 579.49 L343.62 579.55ZM346.53 572.91 L346.47 572.97 L346.17 572.97 L345.82 573.15 L344.63 574.32 L344.45 574.68 L344.45 574.97 L344.39 575.03 L344.45 575.09 L344.45 575.38 L344.63 575.73 L345.82 576.91 L346.17 577.09 L346.47 577.09 L346.53 577.14 L346.59 577.09 L346.89 577.09 L347.24 576.91 L348.43 575.73 L348.61 575.38 L348.61 575.09 L348.67 575.03 L348.61 574.97 L348.61 574.68 L348.43 574.32 L347.24 573.15 L346.89 572.97 L346.59 572.97ZM369.69 572.97 L369.39 572.97 L369.33 572.91 L369.27 572.97 L368.97 572.97 L368.62 573.15 L368.38 573.38 L368.14 573.85 L367.85 574.74 L367.19 574.09 L366.72 573.85 L364.05 572.97 L363.69 572.97 L363.63 572.91 L361.73 572.91 L361.67 572.97 L361.31 572.97 L358.64 573.85 L358.17 574.09 L355.91 576.38 L354.96 578.26 L353.95 581.2 L353.95 581.55 L353.89 581.61 L353.89 586.31 L353.95 586.37 L353.95 586.72 L354.84 589.36 L355.91 591.54 L358.17 593.83 L358.64 594.06 L361.31 594.95 L361.67 594.95 L361.73 595 L363.63 595 L363.69 594.95 L364.05 594.95 L366.72 594.06 L367.19 593.83 L369.45 591.54 L370.4 589.66 L370.52 589.13 L370.46 589.07 L370.46 588.78 L370.28 588.42 L370.04 588.19 L369.69 588.01 L369.39 588.01 L369.33 587.95 L369.27 588.01 L368.97 588.01 L368.62 588.19 L368.38 588.42 L367.43 590.3 L365.83 591.89 L363.51 592.65 L361.97 592.65 L360.54 591.95 L358.88 590.3 L358.05 588.66 L357.22 586.19 L357.22 581.73 L358.05 579.26 L358.88 577.61 L360.54 575.97 L361.97 575.26 L363.51 575.26 L365.83 576.03 L367.37 577.56 L368.14 579.96 L368.38 580.43 L368.62 580.67 L368.97 580.85 L369.27 580.85 L369.33 580.9 L369.39 580.85 L369.69 580.85 L370.04 580.67 L370.28 580.43 L370.46 580.08 L370.46 579.79 L370.52 579.73 L370.52 574.09 L370.46 574.03 L370.46 573.74 L370.28 573.38 L370.04 573.15Z" fill="#000" fill-rule="evenodd"/>
<path d="M338.69 607.75 L338.34 607.57 L338.04 607.57 L337.98 607.51 L337.92 607.57 L337.62 607.57 L337.27 607.75 L337.03 607.98 L336.79 608.45 L336.5 609.34 L335.84 608.69 L335.37 608.45 L332.7 607.57 L332.34 607.57 L332.28 607.51 L329.43 607.51 L329.37 607.57 L329.01 607.57 L326.34 608.45 L325.87 608.69 L323.73 610.8 L323.55 611.16 L323.55 611.45 L323.49 611.51 L323.49 613.39 L323.55 613.45 L323.55 613.74 L324.68 615.97 L325.87 617.15 L328.24 618.32 L333.7 620.09 L335.37 620.91 L336.79 622.32 L336.79 625.14 L335.43 626.49 L333.11 627.25 L330.5 627.25 L328.18 626.49 L326.64 624.96 L325.87 622.55 L325.63 622.08 L325.39 621.85 L325.04 621.67 L324.74 621.67 L324.68 621.61 L324.62 621.67 L324.32 621.67 L323.97 621.85 L323.73 622.08 L323.55 622.44 L323.55 622.73 L323.49 622.79 L323.49 628.43 L323.55 628.49 L323.55 628.78 L323.73 629.13 L323.97 629.37 L324.32 629.55 L324.62 629.55 L324.68 629.6 L324.74 629.55 L325.04 629.55 L325.39 629.37 L325.63 629.13 L325.87 628.66 L326.16 627.78 L326.82 628.43 L327.29 628.66 L329.96 629.55 L330.32 629.55 L330.38 629.6 L333.23 629.6 L333.29 629.55 L333.65 629.55 L336.32 628.66 L336.79 628.43 L338.93 626.31 L339.11 625.96 L339.11 625.67 L339.17 625.61 L339.17 621.85 L339.05 621.32 L337.98 619.26 L336.79 618.09 L334.71 617.03 L328.95 615.15 L327.29 614.33 L325.87 612.92 L325.87 611.98 L327.23 610.63 L329.55 609.86 L332.16 609.86 L334.48 610.63 L336.02 612.16 L336.79 614.56 L337.03 615.03 L337.27 615.27 L337.62 615.45 L337.92 615.45 L337.98 615.5 L338.04 615.45 L338.34 615.45 L338.69 615.27 L338.93 615.03 L339.11 614.68 L339.11 614.39 L339.17 614.33 L339.17 608.69 L339.11 608.63 L339.11 608.34 L338.93 607.98ZM342.37 607.57 L342.02 607.75 L341.78 607.98 L341.6 608.34 L341.6 608.63 L341.54 608.69 L341.6 608.75 L341.6 609.04 L341.78 609.39 L342.02 609.63 L342.37 609.81 L342.67 609.81 L342.73 609.86 L344.33 609.86 L344.39 609.92 L344.39 627.2 L344.33 627.25 L342.73 627.25 L342.67 627.31 L342.37 627.31 L342.02 627.49 L341.78 627.72 L341.6 628.08 L341.6 628.37 L341.54 628.43 L341.6 628.49 L341.6 628.78 L341.78 629.13 L342.02 629.37 L342.37 629.55 L342.67 629.55 L342.73 629.6 L349.38 629.6 L349.44 629.55 L349.74 629.55 L350.09 629.37 L350.33 629.13 L350.51 628.78 L350.51 628.49 L350.57 628.43 L350.51 628.37 L350.51 628.08 L350.33 627.72 L350.09 627.49 L349.74 627.31 L349.44 627.31 L349.38 627.25 L347.78 627.25 L347.72 627.2 L347.72 620.26 L347.78 620.2 L354.13 620.2 L354.19 620.15 L354.55 620.15 L357.22 619.26 L357.69 619.03 L358.88 617.85 L360.01 615.62 L360.01 615.33 L360.07 615.27 L360.07 612.45 L360.01 612.39 L360.01 612.1 L358.88 609.86 L357.69 608.69 L357.22 608.45 L354.55 607.57 L354.19 607.57 L354.13 607.51 L342.73 607.51 L342.67 607.57ZM347.72 609.92 L347.78 609.86 L353.89 609.86 L355.32 610.57 L356.03 611.27 L356.74 612.68 L356.74 615.03 L356.03 616.44 L355.32 617.15 L353.89 617.85 L347.78 617.85 L347.72 617.8ZM362.92 607.75 L362.68 607.98 L362.5 608.34 L362.5 608.63 L362.44 608.69 L362.5 608.75 L362.5 609.04 L362.68 609.39 L362.92 609.63 L363.27 609.81 L363.57 609.81 L363.63 609.86 L365.23 609.86 L365.29 609.92 L365.29 627.2 L365.23 627.25 L363.63 627.25 L363.57 627.31 L363.27 627.31 L362.92 627.49 L362.68 627.72 L362.5 628.08 L362.5 628.37 L362.44 628.43 L362.5 628.49 L362.5 628.78 L362.68 629.13 L362.92 629.37 L363.27 629.55 L363.57 629.55 L363.63 629.6 L370.28 629.6 L370.34 629.55 L370.64 629.55 L370.99 629.37 L371.23 629.13 L371.41 628.78 L371.41 628.49 L371.47 628.43 L371.41 628.37 L371.41 628.08 L371.23 627.72 L370.99 627.49 L370.64 627.31 L370.34 627.31 L370.28 627.25 L368.68 627.25 L368.62 627.2 L368.62 619.32 L368.68 619.26 L377.58 619.26 L377.64 619.32 L377.64 627.2 L377.58 627.25 L375.98 627.25 L375.92 627.31 L375.62 627.31 L375.27 627.49 L375.03 627.72 L374.85 628.08 L374.85 628.37 L374.79 628.43 L374.85 628.49 L374.85 628.78 L375.03 629.13 L375.27 629.37 L375.62 629.55 L375.92 629.55 L375.98 629.6 L382.63 629.6 L382.69 629.55 L382.99 629.55 L383.34 629.37 L383.58 629.13 L383.76 628.78 L383.76 628.49 L383.82 628.43 L383.76 628.37 L383.76 628.08 L383.58 627.72 L383.34 627.49 L382.99 627.31 L382.69 627.31 L382.63 627.25 L381.03 627.25 L380.97 627.2 L380.97 609.92 L381.03 609.86 L382.63 609.86 L382.69 609.81 L382.99 609.81 L383.34 609.63 L383.58 609.39 L383.76 609.04 L383.76 608.75 L383.82 608.69 L383.76 608.63 L383.76 608.34 L383.58 607.98 L383.34 607.75 L382.99 607.57 L382.69 607.57 L382.63 607.51 L375.98 607.51 L375.92 607.57 L375.62 607.57 L375.27 607.75 L375.03 607.98 L374.85 608.34 L374.85 608.63 L374.79 608.69 L374.85 608.75 L374.85 609.04 L375.03 609.39 L375.27 609.63 L375.62 609.81 L375.92 609.81 L375.98 609.86 L377.58 609.86 L377.64 609.92 L377.64 616.86 L377.58 616.91 L368.68 616.91 L368.62 616.86 L368.62 609.92 L368.68 609.86 L370.28 609.86 L370.34 609.81 L370.64 609.81 L370.99 609.63 L371.23 609.39 L371.41 609.04 L371.41 608.75 L371.47 608.69 L371.41 608.63 L371.41 608.34 L371.23 607.98 L370.99 607.75 L370.64 607.57 L370.34 607.57 L370.28 607.51 L363.63 607.51 L363.57 607.57 L363.27 607.57Z" fill="#000" fill-rule="evenodd"/>
<path d="M323.92 642.25 L323.68 642.48 L323.5 642.84 L323.5 643.13 L323.44 643.19 L323.5 643.25 L323.5 643.54 L323.68 643.89 L323.92 644.13 L324.27 644.31 L324.57 644.31 L324.63 644.36 L326.23 644.36 L326.29 644.42 L326.29 661.7 L326.23 661.75 L324.63 661.75 L324.57 661.81 L324.27 661.81 L323.92 661.99 L323.68 662.22 L323.5 662.58 L323.5 662.87 L323.44 662.93 L323.5 662.99 L323.5 663.28 L323.68 663.63 L323.92 663.87 L324.27 664.05 L324.57 664.05 L324.63 664.1 L331.28 664.1 L331.34 664.05 L331.64 664.05 L331.99 663.87 L332.23 663.63 L332.41 663.28 L332.41 662.99 L332.47 662.93 L332.41 662.87 L332.41 662.58 L332.23 662.22 L331.99 661.99 L331.64 661.81 L331.34 661.81 L331.28 661.75 L329.68 661.75 L329.62 661.7 L329.62 653.82 L329.68 653.76 L332.94 653.76 L334.25 654.47 L334.96 655.88 L334.96 656.06 L335.08 656.29 L335.08 656.47 L335.2 656.7 L336.74 662.22 L336.98 662.69 L338.17 663.87 L338.52 664.05 L338.82 664.05 L338.88 664.1 L340.78 664.1 L340.84 664.05 L341.14 664.05 L341.49 663.87 L341.85 663.46 L342.86 661.4 L342.86 661.11 L342.92 661.05 L342.86 659.76 L342.68 659.4 L342.44 659.17 L342.09 658.99 L341.79 658.99 L341.73 658.93 L341.67 658.99 L341.37 658.99 L341.02 659.17 L340.78 659.4 L340.6 659.76 L340.54 660.58 L340.3 660.81 L339.89 660.4 L337.28 654.29 L336.98 653.76 L336.8 653.59 L339.12 652.82 L339.59 652.59 L340.78 651.41 L341.85 649.36 L341.97 648.83 L341.97 646.95 L341.91 646.89 L341.91 646.6 L340.78 644.36 L339.59 643.19 L339.12 642.95 L336.45 642.07 L336.09 642.07 L336.03 642.01 L324.63 642.01 L324.57 642.07 L324.27 642.07ZM329.62 644.42 L329.68 644.36 L335.79 644.36 L337.22 645.07 L337.93 645.77 L338.64 647.18 L338.64 648.59 L337.93 650 L337.22 650.71 L335.79 651.41 L329.68 651.41 L329.62 651.36ZM352.18 648.59 L352.12 648.65 L351.76 648.65 L349.09 649.53 L348.62 649.77 L346.48 651.88 L346.24 652.35 L345.35 655 L345.35 655.35 L345.29 655.41 L345.29 657.29 L345.35 657.35 L345.35 657.7 L346.24 660.34 L346.48 660.81 L348.62 662.93 L349.09 663.16 L351.76 664.05 L352.12 664.05 L352.18 664.1 L354.08 664.1 L354.14 664.05 L354.5 664.05 L357.17 663.16 L357.64 662.93 L359.78 660.81 L359.96 660.46 L359.96 660.17 L360.02 660.11 L359.96 660.05 L359.96 659.76 L359.78 659.4 L359.54 659.17 L359.19 658.99 L358.89 658.99 L358.83 658.93 L358.77 658.99 L358.47 658.99 L358.12 659.17 L356.28 660.99 L353.96 661.75 L352.42 661.75 L350.99 661.05 L349.39 659.46 L348.62 657.17 L348.62 656.64 L348.68 656.58 L358.83 656.58 L358.89 656.53 L359.19 656.53 L359.54 656.35 L359.78 656.11 L359.96 655.76 L359.96 655.47 L360.02 655.41 L360.02 653.53 L359.9 653 L358.95 651.12 L357.46 649.65 L355.39 648.65 L355.09 648.65 L355.03 648.59ZM349.09 654.12 L349.39 653.24 L350.99 651.65 L352.42 650.94 L354.79 650.94 L355.98 651.53 L356.69 652.82 L356.69 654.18 L356.63 654.23 L349.15 654.23ZM370.23 648.59 L370.17 648.65 L369.81 648.65 L367.14 649.53 L366.67 649.77 L364.53 651.88 L364.29 652.35 L363.4 655 L363.4 655.35 L363.34 655.41 L363.34 657.29 L363.4 657.35 L363.4 657.7 L364.29 660.34 L364.53 660.81 L366.67 662.93 L367.14 663.16 L369.81 664.05 L370.17 664.05 L370.23 664.1 L372.13 664.1 L372.19 664.05 L372.55 664.05 L375.22 663.16 L375.69 662.93 L377.83 660.81 L378.01 660.46 L378.01 660.17 L378.07 660.11 L378.01 660.05 L378.01 659.76 L377.83 659.4 L377.59 659.17 L377.24 658.99 L376.94 658.99 L376.88 658.93 L376.82 658.99 L376.52 658.99 L376.17 659.17 L374.33 660.99 L372.01 661.75 L370.47 661.75 L369.04 661.05 L367.44 659.46 L366.67 657.17 L366.67 655.53 L367.44 653.24 L369.04 651.65 L370.47 650.94 L372.84 650.94 L374.27 651.65 L374.74 652.12 L374.03 652.82 L373.85 653.18 L373.85 653.47 L373.79 653.53 L373.85 653.59 L373.85 653.88 L374.03 654.23 L375.22 655.41 L375.57 655.59 L375.87 655.59 L375.93 655.64 L375.99 655.59 L376.29 655.59 L376.64 655.41 L377.83 654.23 L378.01 653.88 L378.01 653.59 L378.07 653.53 L378.07 652.59 L378.01 652.53 L378.01 652.24 L377.83 651.88 L375.51 649.65 L373.44 648.65 L373.14 648.65 L373.08 648.59ZM380.68 649.06 L380.5 649.42 L380.5 649.71 L380.44 649.77 L380.5 649.83 L380.5 650.12 L380.68 650.47 L380.92 650.71 L381.27 650.89 L381.57 650.89 L381.63 650.94 L383.23 650.94 L383.29 651 L383.29 660.11 L383.41 660.64 L384.36 662.52 L384.72 662.93 L385.19 663.16 L387.86 664.05 L388.22 664.05 L388.28 664.1 L390.18 664.1 L390.24 664.05 L390.6 664.05 L393.27 663.16 L393.68 662.93 L393.8 662.99 L393.8 663.28 L393.98 663.63 L394.22 663.87 L394.57 664.05 L394.87 664.05 L394.93 664.1 L398.73 664.1 L398.79 664.05 L399.09 664.05 L399.44 663.87 L399.68 663.63 L399.86 663.28 L399.86 662.99 L399.92 662.93 L399.86 662.87 L399.86 662.58 L399.68 662.22 L399.44 661.99 L399.09 661.81 L398.79 661.81 L398.73 661.75 L397.13 661.75 L397.07 661.7 L397.07 649.77 L397.01 649.71 L397.01 649.42 L396.83 649.06 L396.59 648.83 L396.24 648.65 L395.94 648.65 L395.88 648.59 L392.08 648.59 L392.02 648.65 L391.72 648.65 L391.37 648.83 L391.13 649.06 L390.95 649.42 L390.95 649.71 L390.89 649.77 L390.95 649.83 L390.95 650.12 L391.13 650.47 L391.37 650.71 L391.72 650.89 L392.02 650.89 L392.08 650.94 L393.68 650.94 L393.74 651 L393.74 659.64 L392.38 660.99 L390.06 661.75 L388.52 661.75 L387.33 661.17 L386.62 659.87 L386.62 649.77 L386.56 649.71 L386.56 649.42 L386.38 649.06 L386.14 648.83 L385.79 648.65 L385.49 648.65 L385.43 648.59 L381.63 648.59 L381.57 648.65 L381.27 648.65 L380.92 648.83ZM402.17 648.65 L401.82 648.83 L401.58 649.06 L401.4 649.42 L401.4 649.71 L401.34 649.77 L401.4 649.83 L401.4 650.12 L401.58 650.47 L401.82 650.71 L402.17 650.89 L402.47 650.89 L402.53 650.94 L404.13 650.94 L404.19 651 L404.19 661.7 L404.13 661.75 L402.53 661.75 L402.47 661.81 L402.17 661.81 L401.82 661.99 L401.58 662.22 L401.4 662.58 L401.4 662.87 L401.34 662.93 L401.4 662.99 L401.4 663.28 L401.58 663.63 L401.82 663.87 L402.17 664.05 L402.47 664.05 L402.53 664.1 L409.18 664.1 L409.24 664.05 L409.54 664.05 L409.89 663.87 L410.13 663.63 L410.31 663.28 L410.31 662.99 L410.37 662.93 L410.31 662.87 L410.31 662.58 L410.13 662.22 L409.89 661.99 L409.54 661.81 L409.24 661.81 L409.18 661.75 L407.58 661.75 L407.52 661.7 L407.52 655.53 L408.29 653.24 L409.89 651.65 L411.32 650.94 L411.97 650.94 L412.03 651 L411.85 651.3 L411.85 651.59 L411.79 651.65 L411.85 651.71 L411.85 652 L412.03 652.35 L413.22 653.53 L413.57 653.71 L413.87 653.71 L413.93 653.76 L413.99 653.71 L414.29 653.71 L414.64 653.53 L415.83 652.35 L416.01 652 L416.01 651.71 L416.07 651.65 L416.01 650.36 L415.83 650 L414.64 648.83 L414.29 648.65 L413.99 648.65 L413.93 648.59 L411.08 648.59 L411.02 648.65 L410.72 648.65 L408.65 649.65 L407.58 650.65 L407.52 650.59 L407.46 649.42 L407.28 649.06 L407.04 648.83 L406.69 648.65 L406.39 648.65 L406.33 648.59 L402.53 648.59 L402.47 648.65ZM421.95 648.71 L419.87 649.77 L418.68 650.94 L418.5 651.3 L418.5 651.59 L418.44 651.65 L418.44 653.53 L418.5 653.59 L418.5 653.88 L418.68 654.23 L420.05 655.53 L422.18 656.58 L426.75 658.35 L428.42 659.17 L428.89 659.64 L428.89 660.58 L428.42 661.05 L426.99 661.75 L423.67 661.75 L422.24 661.05 L421.53 660.34 L420.7 658.64 L420.34 658.23 L419.99 658.05 L419.69 658.05 L419.63 657.99 L419.57 658.05 L419.27 658.05 L418.92 658.23 L418.68 658.46 L418.5 658.82 L418.5 659.11 L418.44 659.17 L418.44 662.93 L418.5 662.99 L418.5 663.28 L418.68 663.63 L418.92 663.87 L419.27 664.05 L419.57 664.05 L419.63 664.1 L419.69 664.05 L419.99 664.05 L420.34 663.87 L420.58 663.63 L420.94 662.99 L422.9 663.99 L423.43 664.1 L427.23 664.1 L427.76 663.99 L429.84 662.93 L431.03 661.75 L431.21 661.4 L431.21 661.11 L431.27 661.05 L431.27 658.23 L431.21 658.17 L431.21 657.88 L431.03 657.52 L429.66 656.23 L427.53 655.17 L422.95 653.41 L421.29 652.59 L420.82 652.12 L421.29 651.65 L422.72 650.94 L426.04 650.94 L427.47 651.65 L428.18 652.35 L429.01 654.06 L429.37 654.47 L429.72 654.65 L430.02 654.65 L430.08 654.7 L430.14 654.65 L430.44 654.65 L430.79 654.47 L431.03 654.23 L431.21 653.88 L431.21 653.59 L431.27 653.53 L431.27 649.77 L431.21 649.71 L431.21 649.42 L431.03 649.06 L430.79 648.83 L430.44 648.65 L430.14 648.65 L430.08 648.59 L430.02 648.65 L429.72 648.65 L429.37 648.83 L429.13 649.06 L428.77 649.71 L426.81 648.71 L426.28 648.59 L422.48 648.59ZM434.47 648.65 L434.12 648.83 L433.88 649.06 L433.7 649.42 L433.7 649.71 L433.64 649.77 L433.7 649.83 L433.7 650.12 L433.88 650.47 L434.12 650.71 L434.47 650.89 L434.77 650.89 L434.83 650.94 L436.43 650.94 L436.49 651 L436.49 661.7 L436.43 661.75 L434.83 661.75 L434.77 661.81 L434.47 661.81 L434.12 661.99 L433.88 662.22 L433.7 662.58 L433.7 662.87 L433.64 662.93 L433.7 662.99 L433.7 663.28 L433.88 663.63 L434.12 663.87 L434.47 664.05 L434.77 664.05 L434.83 664.1 L441.48 664.1 L441.54 664.05 L441.84 664.05 L442.19 663.87 L442.43 663.63 L442.61 663.28 L442.61 662.99 L442.67 662.93 L442.61 662.87 L442.61 662.58 L442.43 662.22 L442.19 661.99 L441.84 661.81 L441.54 661.81 L441.48 661.75 L439.88 661.75 L439.82 661.7 L439.82 649.77 L439.76 649.71 L439.76 649.42 L439.58 649.06 L439.34 648.83 L438.99 648.65 L438.69 648.65 L438.63 648.59 L434.83 648.59 L434.77 648.65ZM437.68 642.01 L437.62 642.07 L437.32 642.07 L436.97 642.25 L435.78 643.42 L435.6 643.78 L435.6 644.07 L435.54 644.13 L435.6 644.19 L435.6 644.48 L435.78 644.83 L436.97 646.01 L437.32 646.19 L437.62 646.19 L437.68 646.24 L437.74 646.19 L438.04 646.19 L438.39 646.01 L439.58 644.83 L439.76 644.48 L439.76 644.19 L439.82 644.13 L439.76 644.07 L439.76 643.78 L439.58 643.42 L438.39 642.25 L438.04 642.07 L437.74 642.07ZM443.62 648.83 L443.38 649.06 L443.2 649.42 L443.2 649.71 L443.14 649.77 L443.2 649.83 L443.2 650.12 L443.38 650.47 L443.62 650.71 L443.97 650.89 L445.4 650.94 L445.52 651.06 L450.8 663.34 L451.22 663.87 L451.57 664.05 L451.87 664.05 L451.93 664.1 L451.99 664.05 L452.29 664.05 L452.64 663.87 L452.88 663.63 L453.18 663.11 L458.34 651.06 L458.46 650.94 L459.89 650.89 L460.24 650.71 L460.48 650.47 L460.66 650.12 L460.66 649.83 L460.72 649.77 L460.66 649.71 L460.66 649.42 L460.48 649.06 L460.24 648.83 L459.89 648.65 L459.59 648.65 L459.53 648.59 L453.83 648.59 L453.77 648.65 L453.47 648.65 L453.12 648.83 L452.88 649.06 L452.7 649.42 L452.7 649.71 L452.64 649.77 L452.7 649.83 L452.7 650.12 L452.88 650.47 L453.12 650.71 L453.47 650.89 L453.77 650.89 L453.83 650.94 L455.73 650.94 L455.79 651.06 L452.35 658.93 L449.02 651.12 L449.08 650.94 L450.39 650.89 L450.74 650.71 L450.98 650.47 L451.16 650.12 L451.16 649.83 L451.22 649.77 L451.16 649.71 L451.16 649.42 L450.98 649.06 L450.74 648.83 L450.39 648.65 L450.09 648.65 L450.03 648.59 L444.33 648.59 L444.27 648.65 L443.97 648.65ZM469.03 648.59 L468.97 648.65 L468.61 648.65 L465.94 649.53 L465.47 649.77 L463.33 651.88 L463.09 652.35 L462.2 655 L462.2 655.35 L462.14 655.41 L462.14 657.29 L462.2 657.35 L462.2 657.7 L463.09 660.34 L463.33 660.81 L465.47 662.93 L465.94 663.16 L468.61 664.05 L468.97 664.05 L469.03 664.1 L470.93 664.1 L470.99 664.05 L471.35 664.05 L474.02 663.16 L474.49 662.93 L476.63 660.81 L476.81 660.46 L476.81 660.17 L476.87 660.11 L476.81 660.05 L476.81 659.76 L476.63 659.4 L476.39 659.17 L476.04 658.99 L475.74 658.99 L475.68 658.93 L475.62 658.99 L475.32 658.99 L474.97 659.17 L473.13 660.99 L470.81 661.75 L469.27 661.75 L467.84 661.05 L466.24 659.46 L465.47 657.17 L465.47 656.64 L465.53 656.58 L475.68 656.58 L475.74 656.53 L476.04 656.53 L476.39 656.35 L476.63 656.11 L476.81 655.76 L476.81 655.47 L476.87 655.41 L476.87 653.53 L476.75 653 L475.8 651.12 L474.31 649.65 L472.24 648.65 L471.94 648.65 L471.88 648.59ZM465.94 654.12 L466.24 653.24 L467.84 651.65 L469.27 650.94 L471.64 650.94 L472.83 651.53 L473.54 652.82 L473.54 654.18 L473.48 654.23 L466 654.23ZM481.14 654.47 L481.2 654.53 L481.2 654.82 L481.38 655.17 L481.62 655.41 L481.97 655.59 L482.27 655.59 L482.33 655.64 L499.43 655.64 L499.49 655.59 L499.79 655.59 L500.14 655.41 L500.38 655.17 L500.56 654.82 L500.56 654.53 L500.62 654.47 L500.56 654.41 L500.56 654.12 L500.38 653.76 L500.14 653.53 L499.79 653.35 L499.49 653.35 L499.43 653.29 L482.33 653.29 L482.27 653.35 L481.97 653.35 L481.62 653.53 L481.38 653.76 L481.2 654.12 L481.2 654.41ZM504.42 642.25 L504.18 642.48 L504 642.84 L504 643.13 L503.94 643.19 L503.94 648.83 L504 648.89 L504 649.18 L504.18 649.53 L504.42 649.77 L504.77 649.95 L505.07 649.95 L505.13 650 L505.19 649.95 L505.49 649.95 L505.84 649.77 L506.08 649.53 L506.26 649.18 L506.61 647.3 L506.61 647.01 L506.67 646.95 L506.67 646.66 L506.73 646.6 L506.73 646.3 L506.79 646.24 L506.79 645.95 L506.85 645.89 L506.85 645.6 L506.91 645.54 L506.91 645.25 L506.97 645.19 L506.97 644.89 L507.03 644.83 L507.03 644.54 L507.15 644.36 L510.53 644.36 L510.59 644.42 L510.59 661.7 L510.53 661.75 L508.93 661.75 L508.87 661.81 L508.57 661.81 L508.22 661.99 L507.98 662.22 L507.8 662.58 L507.8 662.87 L507.74 662.93 L507.8 662.99 L507.8 663.28 L507.98 663.63 L508.22 663.87 L508.57 664.05 L508.87 664.05 L508.93 664.1 L515.58 664.1 L515.64 664.05 L515.94 664.05 L516.29 663.87 L516.53 663.63 L516.71 663.28 L516.71 662.99 L516.77 662.93 L516.71 662.87 L516.71 662.58 L516.53 662.22 L516.29 661.99 L515.94 661.81 L515.64 661.81 L515.58 661.75 L513.98 661.75 L513.92 661.7 L513.92 644.42 L513.98 644.36 L517.36 644.36 L517.48 644.54 L517.48 644.83 L517.54 644.89 L517.54 645.19 L517.6 645.25 L517.6 645.54 L517.66 645.6 L517.66 645.89 L517.72 645.95 L517.72 646.24 L517.78 646.3 L517.78 646.6 L517.84 646.66 L517.84 646.95 L517.9 647.01 L517.9 647.3 L518.25 649.18 L518.43 649.53 L518.67 649.77 L519.02 649.95 L519.32 649.95 L519.38 650 L519.44 649.95 L519.74 649.95 L520.09 649.77 L520.33 649.53 L520.51 649.18 L520.51 648.89 L520.57 648.83 L520.57 643.19 L520.51 643.13 L520.51 642.84 L520.33 642.48 L520.09 642.25 L519.74 642.07 L519.44 642.07 L519.38 642.01 L505.13 642.01 L505.07 642.07 L504.77 642.07ZM538.74 642.07 L538.44 642.07 L538.38 642.01 L538.32 642.07 L538.02 642.07 L537.67 642.25 L537.43 642.48 L537.19 642.95 L536.9 643.84 L536.24 643.19 L535.77 642.95 L533.1 642.07 L532.74 642.07 L532.68 642.01 L530.78 642.01 L530.72 642.07 L530.36 642.07 L527.69 642.95 L527.22 643.19 L524.96 645.48 L524.01 647.36 L523 650.3 L523 650.65 L522.94 650.71 L522.94 655.41 L523 655.47 L523 655.82 L523.89 658.46 L524.96 660.64 L527.22 662.93 L527.69 663.16 L530.36 664.05 L530.72 664.05 L530.78 664.1 L532.68 664.1 L532.74 664.05 L533.1 664.05 L535.77 663.16 L536.24 662.93 L538.5 660.64 L539.45 658.76 L539.57 658.23 L539.51 658.17 L539.51 657.88 L539.33 657.52 L539.09 657.29 L538.74 657.11 L538.44 657.11 L538.38 657.05 L538.32 657.11 L538.02 657.11 L537.67 657.29 L537.43 657.52 L536.48 659.4 L534.88 660.99 L532.56 661.75 L531.02 661.75 L529.59 661.05 L527.93 659.4 L527.1 657.76 L526.27 655.29 L526.27 650.83 L527.1 648.36 L527.93 646.71 L529.59 645.07 L531.02 644.36 L532.56 644.36 L534.88 645.13 L536.42 646.66 L537.19 649.06 L537.43 649.53 L537.67 649.77 L538.02 649.95 L538.32 649.95 L538.38 650 L538.44 649.95 L538.74 649.95 L539.09 649.77 L539.33 649.53 L539.51 649.18 L539.51 648.89 L539.57 648.83 L539.57 643.19 L539.51 643.13 L539.51 642.84 L539.33 642.48 L539.09 642.25ZM542.42 642.25 L542.18 642.48 L542 642.84 L542 643.13 L541.94 643.19 L542 643.25 L542 643.54 L542.18 643.89 L542.42 644.13 L542.77 644.31 L543.07 644.31 L543.13 644.36 L544.73 644.36 L544.79 644.42 L544.79 661.7 L544.73 661.75 L543.13 661.75 L543.07 661.81 L542.77 661.81 L542.42 661.99 L542.18 662.22 L542 662.58 L542 662.87 L541.94 662.93 L542 662.99 L542 663.28 L542.18 663.63 L542.42 663.87 L542.77 664.05 L543.07 664.05 L543.13 664.1 L548.83 664.1 L548.89 664.05 L549.19 664.05 L549.54 663.87 L549.78 663.63 L549.96 663.28 L549.96 662.99 L550.02 662.93 L549.96 662.87 L549.96 662.58 L549.78 662.22 L549.54 661.99 L549.19 661.81 L548.89 661.81 L548.83 661.75 L547.23 661.75 L547.17 661.7 L547.17 650.71 L547.23 650.65 L551.44 663.16 L551.68 663.63 L551.92 663.87 L552.27 664.05 L552.57 664.05 L552.63 664.1 L552.69 664.05 L552.99 664.05 L553.34 663.87 L553.58 663.63 L553.82 663.16 L558.03 650.65 L558.09 650.71 L558.09 661.7 L558.03 661.75 L556.43 661.75 L556.37 661.81 L556.07 661.81 L555.72 661.99 L555.48 662.22 L555.3 662.58 L555.3 662.87 L555.24 662.93 L555.3 662.99 L555.3 663.28 L555.48 663.63 L555.72 663.87 L556.07 664.05 L556.37 664.05 L556.43 664.1 L563.08 664.1 L563.14 664.05 L563.44 664.05 L563.79 663.87 L564.03 663.63 L564.21 663.28 L564.21 662.99 L564.27 662.93 L564.21 662.87 L564.21 662.58 L564.03 662.22 L563.79 661.99 L563.44 661.81 L563.14 661.81 L563.08 661.75 L561.48 661.75 L561.42 661.7 L561.42 644.42 L561.48 644.36 L563.08 644.36 L563.14 644.31 L563.44 644.31 L563.79 644.13 L564.03 643.89 L564.21 643.54 L564.21 643.25 L564.27 643.19 L564.21 643.13 L564.21 642.84 L564.03 642.48 L563.79 642.25 L563.44 642.07 L563.14 642.07 L563.08 642.01 L559.28 642.01 L559.22 642.07 L558.92 642.07 L558.57 642.25 L558.33 642.48 L558.09 642.95 L553.1 657.76 L548.12 642.95 L547.88 642.48 L547.64 642.25 L547.29 642.07 L546.99 642.07 L546.93 642.01 L543.13 642.01 L543.07 642.07 L542.77 642.07Z" fill="#000" fill-rule="evenodd"/>
<path d="M653.76 313.65 L653.53 313.88 L653.35 314.24 L653.35 314.53 L653.3 314.59 L653.35 314.65 L653.35 314.94 L653.53 315.29 L653.76 315.53 L654.11 315.71 L654.41 315.71 L654.46 315.76 L656.28 315.76 L656.33 315.82 L656.63 317.64 L656.86 318.58 L656.86 318.88 L657.09 319.82 L657.09 320.11 L657.33 321.05 L657.33 321.35 L657.56 322.29 L657.56 322.58 L657.8 323.52 L657.8 323.81 L658.03 324.75 L658.03 325.05 L658.26 325.99 L658.26 326.28 L658.5 327.22 L658.5 327.51 L658.73 328.45 L658.73 328.75 L658.96 329.69 L658.96 329.98 L659.2 330.92 L659.2 331.22 L659.43 332.16 L659.43 332.45 L659.67 333.39 L659.67 333.68 L659.84 334.56 L660.07 335.03 L660.31 335.27 L660.66 335.45 L660.95 335.45 L661.01 335.5 L661.07 335.45 L661.36 335.45 L661.71 335.27 L661.94 335.03 L662.18 334.56 L664.75 320.99 L667.32 334.56 L667.55 335.03 L667.79 335.27 L668.14 335.45 L668.43 335.45 L668.49 335.5 L668.55 335.45 L668.84 335.45 L669.19 335.27 L669.42 335.03 L669.66 334.56 L669.83 333.39 L670.07 332.45 L670.07 332.16 L670.3 331.22 L670.3 330.92 L670.53 329.98 L670.53 329.69 L670.77 328.75 L670.77 328.45 L671 327.51 L671 327.22 L671.24 326.28 L671.24 325.99 L671.47 325.05 L671.47 324.75 L671.7 323.81 L671.7 323.52 L671.94 322.58 L671.94 322.29 L672.17 321.35 L672.17 321.05 L672.4 320.11 L672.4 319.82 L672.64 318.88 L672.64 318.58 L672.87 317.64 L672.87 317.35 L673.11 316.41 L673.16 315.82 L673.22 315.76 L675.03 315.76 L675.09 315.71 L675.38 315.71 L675.74 315.53 L675.97 315.29 L676.14 314.94 L676.14 314.65 L676.2 314.59 L676.14 314.53 L676.14 314.24 L675.97 313.88 L675.74 313.65 L675.38 313.47 L675.09 313.47 L675.03 313.41 L669.42 313.41 L669.37 313.47 L669.07 313.47 L668.72 313.65 L668.49 313.88 L668.31 314.24 L668.31 314.53 L668.26 314.59 L668.31 314.65 L668.31 314.94 L668.49 315.29 L668.72 315.53 L669.07 315.71 L669.37 315.71 L669.42 315.76 L670.77 315.76 L670.83 315.82 L670.65 316.47 L670.65 316.76 L670.42 317.7 L670.42 318 L670.18 318.94 L670.18 319.23 L669.95 320.17 L669.95 320.46 L668.96 325.46 L668.84 325.22 L668.72 324.64 L668.72 324.34 L668.55 323.7 L668.55 323.4 L668.37 322.76 L668.37 322.46 L668.2 321.82 L668.2 321.52 L668.02 320.88 L668.02 320.58 L667.85 319.94 L667.85 319.64 L667.67 319 L667.67 318.7 L667.5 318.06 L667.5 317.76 L667.32 317.12 L667.32 316.82 L667.15 316.18 L666.85 314.35 L666.62 313.88 L666.39 313.65 L666.03 313.47 L665.74 313.47 L665.68 313.41 L665.16 313.53 L664.75 313.41 L664.69 313.47 L664.4 313.47 L664.05 313.65 L663.81 313.88 L663.58 314.35 L661.48 325.46 L661.36 325.22 L661.24 324.64 L661.24 324.34 L661.07 323.7 L661.07 323.4 L660.89 322.76 L660.89 322.46 L660.72 321.82 L660.72 321.52 L660.54 320.88 L660.54 320.58 L660.37 319.94 L660.37 319.64 L659.61 315.82 L659.67 315.76 L661.01 315.76 L661.07 315.71 L661.36 315.71 L661.71 315.53 L661.94 315.29 L662.12 314.94 L662.12 314.65 L662.18 314.59 L662.12 314.53 L662.12 314.24 L661.94 313.88 L661.71 313.65 L661.36 313.47 L661.07 313.47 L661.01 313.41 L654.46 313.41 L654.41 313.47 L654.11 313.47ZM677.14 313.65 L676.9 313.88 L676.73 314.24 L676.73 314.53 L676.67 314.59 L676.73 314.65 L676.73 314.94 L676.9 315.29 L677.14 315.53 L677.49 315.71 L677.78 315.71 L677.84 315.76 L679.42 315.76 L679.48 315.82 L679.48 333.1 L679.42 333.15 L677.84 333.15 L677.78 333.21 L677.49 333.21 L677.14 333.39 L676.9 333.62 L676.73 333.98 L676.73 334.27 L676.67 334.33 L676.73 334.39 L676.73 334.68 L676.9 335.03 L677.14 335.27 L677.49 335.45 L677.78 335.45 L677.84 335.5 L687.19 335.5 L687.25 335.45 L687.6 335.45 L690.23 334.56 L690.7 334.33 L692.92 332.04 L693.97 329.86 L694.84 327.22 L694.84 326.87 L694.9 326.81 L694.9 322.11 L694.84 322.05 L694.84 321.7 L693.85 318.76 L692.92 316.88 L690.7 314.59 L690.23 314.35 L687.6 313.47 L687.25 313.47 L687.19 313.41 L677.84 313.41 L677.78 313.47 L677.49 313.47ZM682.81 315.76 L686.96 315.76 L688.36 316.47 L689.99 318.11 L690.81 319.76 L691.63 322.23 L691.63 326.69 L690.81 329.16 L689.99 330.8 L688.36 332.45 L686.96 333.15 L682.81 333.15 L682.75 333.1 L682.75 315.82ZM697.71 313.65 L697.47 313.88 L697.3 314.24 L697.3 314.53 L697.24 314.59 L697.3 314.65 L697.3 314.94 L697.47 315.29 L697.71 315.53 L698.06 315.71 L698.35 315.71 L698.41 315.76 L699.99 315.76 L700.05 315.82 L700.05 333.1 L699.99 333.15 L698.41 333.15 L698.35 333.21 L698.06 333.21 L697.71 333.39 L697.47 333.62 L697.3 333.98 L697.3 334.27 L697.24 334.33 L697.3 334.39 L697.3 334.68 L697.47 335.03 L697.71 335.27 L698.06 335.45 L698.35 335.45 L698.41 335.5 L704.02 335.5 L704.08 335.45 L704.37 335.45 L704.72 335.27 L704.95 335.03 L705.13 334.68 L705.13 334.39 L705.19 334.33 L705.13 334.27 L705.13 333.98 L704.95 333.62 L704.72 333.39 L704.37 333.21 L704.08 333.21 L704.02 333.15 L702.44 333.15 L702.38 333.1 L702.38 322.11 L702.44 322.05 L706.59 334.56 L706.82 335.03 L707.06 335.27 L707.41 335.45 L707.7 335.45 L707.76 335.5 L707.82 335.45 L708.11 335.45 L708.46 335.27 L708.69 335.03 L708.93 334.56 L713.08 322.05 L713.14 322.11 L713.14 333.1 L713.08 333.15 L711.5 333.15 L711.44 333.21 L711.15 333.21 L710.8 333.39 L710.56 333.62 L710.39 333.98 L710.39 334.27 L710.33 334.33 L710.39 334.39 L710.39 334.68 L710.56 335.03 L710.8 335.27 L711.15 335.45 L711.44 335.45 L711.5 335.5 L718.04 335.5 L718.1 335.45 L718.39 335.45 L718.75 335.27 L718.98 335.03 L719.15 334.68 L719.15 334.39 L719.21 334.33 L719.15 334.27 L719.15 333.98 L718.98 333.62 L718.75 333.39 L718.39 333.21 L718.1 333.21 L718.04 333.15 L716.47 333.15 L716.41 333.1 L716.41 315.82 L716.47 315.76 L718.04 315.76 L718.1 315.71 L718.39 315.71 L718.75 315.53 L718.98 315.29 L719.15 314.94 L719.15 314.65 L719.21 314.59 L719.15 314.53 L719.15 314.24 L718.98 313.88 L718.75 313.65 L718.39 313.47 L718.1 313.47 L718.04 313.41 L714.3 313.41 L714.25 313.47 L713.95 313.47 L713.6 313.65 L713.37 313.88 L713.14 314.35 L708.23 329.16 L703.32 314.35 L703.08 313.88 L702.85 313.65 L702.5 313.47 L702.21 313.47 L702.15 313.41 L698.41 313.41 L698.35 313.47 L698.06 313.47Z" fill="#000" fill-rule="evenodd"/>
<path d="M672.79 642.17 L672.49 642.17 L672.43 642.11 L672.37 642.17 L672.07 642.17 L671.72 642.35 L671.48 642.58 L671.24 643.05 L670.95 643.94 L670.29 643.29 L669.82 643.05 L667.15 642.17 L666.79 642.17 L666.73 642.11 L664.83 642.11 L664.77 642.17 L664.41 642.17 L661.74 643.05 L661.27 643.29 L659.01 645.58 L658.06 647.46 L657.05 650.4 L657.05 650.75 L656.99 650.81 L656.99 655.51 L657.05 655.57 L657.05 655.92 L657.94 658.56 L659.01 660.74 L661.27 663.03 L661.74 663.26 L664.41 664.15 L664.77 664.15 L664.83 664.2 L666.73 664.2 L666.79 664.15 L667.15 664.15 L669.82 663.26 L670.29 663.03 L672.55 660.74 L673.5 658.86 L673.62 658.33 L673.56 658.27 L673.56 657.98 L673.38 657.62 L673.14 657.39 L672.79 657.21 L672.49 657.21 L672.43 657.15 L672.37 657.21 L672.07 657.21 L671.72 657.39 L671.48 657.62 L670.53 659.5 L668.93 661.09 L666.61 661.85 L665.07 661.85 L663.64 661.15 L661.98 659.5 L661.15 657.86 L660.32 655.39 L660.32 650.93 L661.15 648.46 L661.98 646.81 L663.64 645.17 L665.07 644.46 L666.61 644.46 L668.93 645.23 L670.47 646.76 L671.24 649.16 L671.48 649.63 L671.72 649.87 L672.07 650.05 L672.37 650.05 L672.43 650.1 L672.49 650.05 L672.79 650.05 L673.14 649.87 L673.38 649.63 L673.56 649.28 L673.56 648.99 L673.62 648.93 L673.62 643.29 L673.56 643.23 L673.56 642.94 L673.38 642.58 L673.14 642.35ZM676.47 642.35 L676.23 642.58 L676.05 642.94 L676.05 643.23 L675.99 643.29 L676.05 643.35 L676.05 643.64 L676.23 643.99 L676.47 644.23 L676.82 644.41 L677.12 644.41 L677.18 644.46 L678.78 644.46 L678.84 644.52 L678.84 661.8 L678.78 661.85 L677.18 661.85 L677.12 661.91 L676.82 661.91 L676.47 662.09 L676.23 662.32 L676.05 662.68 L676.05 662.97 L675.99 663.03 L676.05 663.09 L676.05 663.38 L676.23 663.73 L676.47 663.97 L676.82 664.15 L677.12 664.15 L677.18 664.2 L686.68 664.2 L686.74 664.15 L687.1 664.15 L689.77 663.26 L690.24 663.03 L692.5 660.74 L693.57 658.56 L694.46 655.92 L694.46 655.57 L694.52 655.51 L694.52 650.81 L694.46 650.75 L694.46 650.4 L693.45 647.46 L692.5 645.58 L690.24 643.29 L689.77 643.05 L687.1 642.17 L686.74 642.17 L686.68 642.11 L677.18 642.11 L677.12 642.17 L676.82 642.17ZM682.23 644.46 L686.44 644.46 L687.87 645.17 L689.53 646.81 L690.36 648.46 L691.19 650.93 L691.19 655.39 L690.36 657.86 L689.53 659.5 L687.87 661.15 L686.44 661.85 L682.23 661.85 L682.17 661.8 L682.17 644.52ZM697.37 642.35 L697.13 642.58 L696.95 642.94 L696.95 643.23 L696.89 643.29 L696.95 643.35 L696.95 643.64 L697.13 643.99 L697.37 644.23 L697.72 644.41 L698.02 644.41 L698.08 644.46 L699.68 644.46 L699.74 644.52 L699.74 661.8 L699.68 661.85 L698.08 661.85 L698.02 661.91 L697.72 661.91 L697.37 662.09 L697.13 662.32 L696.95 662.68 L696.95 662.97 L696.89 663.03 L696.95 663.09 L696.95 663.38 L697.13 663.73 L697.37 663.97 L697.72 664.15 L698.02 664.15 L698.08 664.2 L703.78 664.2 L703.84 664.15 L704.14 664.15 L704.49 663.97 L704.73 663.73 L704.91 663.38 L704.91 663.09 L704.97 663.03 L704.91 662.97 L704.91 662.68 L704.73 662.32 L704.49 662.09 L704.14 661.91 L703.84 661.91 L703.78 661.85 L702.18 661.85 L702.12 661.8 L702.12 650.81 L702.18 650.75 L706.39 663.26 L706.63 663.73 L706.87 663.97 L707.22 664.15 L707.52 664.15 L707.58 664.2 L707.64 664.15 L707.94 664.15 L708.29 663.97 L708.53 663.73 L708.77 663.26 L712.98 650.75 L713.04 650.81 L713.04 661.8 L712.98 661.85 L711.38 661.85 L711.32 661.91 L711.02 661.91 L710.67 662.09 L710.43 662.32 L710.25 662.68 L710.25 662.97 L710.19 663.03 L710.25 663.09 L710.25 663.38 L710.43 663.73 L710.67 663.97 L711.02 664.15 L711.32 664.15 L711.38 664.2 L718.03 664.2 L718.09 664.15 L718.39 664.15 L718.74 663.97 L718.98 663.73 L719.16 663.38 L719.16 663.09 L719.22 663.03 L719.16 662.97 L719.16 662.68 L718.98 662.32 L718.74 662.09 L718.39 661.91 L718.09 661.91 L718.03 661.85 L716.43 661.85 L716.37 661.8 L716.37 644.52 L716.43 644.46 L718.03 644.46 L718.09 644.41 L718.39 644.41 L718.74 644.23 L718.98 643.99 L719.16 643.64 L719.16 643.35 L719.22 643.29 L719.16 643.23 L719.16 642.94 L718.98 642.58 L718.74 642.35 L718.39 642.17 L718.09 642.17 L718.03 642.11 L714.23 642.11 L714.17 642.17 L713.87 642.17 L713.52 642.35 L713.28 642.58 L713.04 643.05 L708.05 657.86 L703.07 643.05 L702.83 642.58 L702.59 642.35 L702.24 642.17 L701.94 642.17 L701.88 642.11 L698.08 642.11 L698.02 642.17 L697.72 642.17Z" fill="#000" fill-rule="evenodd"/>
<g transform="translate(0 0)"><path d="M404.1 775.3L396.2 795.5L411.6 795.5Z" fill="#000" stroke="#000" stroke-width="2" stroke-linejoin="round"/><path d="M403.4 780.1L398.6 793.1L408.4 793.1Z" fill="#fff"/><path d="M419.1 782.6L416.4 795.2" stroke="#000" stroke-width="3.4" fill="none"/><path d="M418.6 788.2L425.5 782.6Q428.5 780.6 430.4 782.3" stroke="#000" stroke-width="2.3" fill="none" stroke-linecap="round"/><path d="M421.3 786.2Q423 792 424.8 794.3Q426.8 796.2 429.8 792.3" stroke="#000" stroke-width="2.8" fill="none" stroke-linecap="round"/></g>
<path d="M451.03 770.61 L450.73 770.79 L450.48 771.1 L450.33 771.46 L450.33 771.76 L450.28 771.82 L450.28 802.62 L450.33 802.68 L450.33 802.98 L450.48 803.34 L450.73 803.64 L451.03 803.82 L451.28 803.82 L451.33 803.88 L456.93 803.88 L456.98 803.82 L457.23 803.82 L457.53 803.64 L457.78 803.34 L457.93 802.98 L457.93 802.68 L457.98 802.62 L457.93 802.56 L457.93 802.26 L457.78 801.9 L457.53 801.59 L457.23 801.41 L456.98 801.41 L456.93 801.35 L453.23 801.35 L453.18 801.29 L453.18 773.14 L453.23 773.08 L456.93 773.08 L456.98 773.02 L457.23 773.02 L457.53 772.84 L457.78 772.54 L457.93 772.18 L457.93 771.88 L457.98 771.82 L457.93 771.76 L457.93 771.46 L457.78 771.1 L457.53 770.79 L457.23 770.61 L456.98 770.61 L456.93 770.55 L451.33 770.55 L451.28 770.61Z" fill="#000" fill-rule="evenodd"/>
<path d="M466 779.3L478.1 792.1M478.1 779.3L466 792.1" stroke="#000" stroke-width="2.3" stroke-linecap="round"/>
<path d="M507.69 773.97 L507.45 773.97 L507.4 773.91 L507.35 773.97 L507.11 773.97 L506.82 774.15 L504.48 776.97 L503.07 777.79 L502.73 778.14 L502.58 778.5 L502.58 778.79 L502.53 778.85 L502.58 778.91 L502.58 779.2 L502.73 779.55 L502.92 779.79 L503.21 779.97 L503.46 779.97 L503.51 780.02 L503.94 779.91 L505.5 778.97 L505.6 778.85 L505.65 778.91 L505.65 793.6 L505.6 793.65 L503.51 793.65 L503.46 793.71 L503.21 793.71 L502.92 793.89 L502.73 794.12 L502.58 794.48 L502.58 794.77 L502.53 794.83 L502.58 794.89 L502.58 795.18 L502.73 795.53 L502.92 795.77 L503.21 795.95 L503.46 795.95 L503.51 796 L510.52 796 L510.57 795.95 L510.81 795.95 L511.1 795.77 L511.3 795.53 L511.44 795.18 L511.44 794.89 L511.49 794.83 L511.44 794.77 L511.44 794.48 L511.3 794.12 L511.1 793.89 L510.81 793.71 L510.57 793.71 L510.52 793.65 L508.42 793.65 L508.38 793.6 L508.38 775.09 L508.33 775.03 L508.33 774.74 L508.18 774.38 L507.99 774.15ZM525.18 773.91 L525.12 773.97 L524.76 773.97 L522.09 774.85 L521.62 775.09 L521.32 775.38 L519.42 778.2 L519.24 778.61 L518.29 783.31 L518.35 783.37 L518.29 783.55 L518.29 786.37 L518.35 786.55 L518.29 786.6 L519.24 791.3 L519.42 791.72 L521.32 794.54 L521.62 794.83 L522.09 795.06 L524.76 795.95 L525.12 795.95 L525.18 796 L527.08 796 L527.14 795.95 L527.5 795.95 L530.17 795.06 L530.64 794.83 L530.94 794.54 L532.84 791.72 L533.02 791.3 L533.97 786.6 L533.91 786.55 L533.97 786.37 L533.97 783.55 L533.91 783.37 L533.97 783.31 L533.02 778.61 L532.84 778.2 L530.94 775.38 L530.64 775.09 L530.17 774.85 L527.5 773.97 L527.14 773.97 L527.08 773.91ZM525.42 776.26 L526.84 776.26 L528.27 776.97 L528.98 777.67 L529.75 779.2 L530.64 783.55 L530.64 786.37 L529.75 790.72 L528.98 792.24 L528.27 792.95 L526.84 793.65 L525.42 793.65 L523.99 792.95 L523.28 792.24 L522.51 790.72 L521.62 786.37 L521.62 783.55 L522.51 779.2 L523.28 777.67 L523.99 776.97Z" fill="#000" fill-rule="evenodd"/>
<path d="M539.43 766.46 L537.45 767.1 L537.04 767.38 L536.95 767.38 L536.29 768.02 L536.29 768.1 L536.09 768.34 L535.35 769.86 L535.3 770.78 L535.39 771.18 L535.51 771.42 L535.63 771.54 L535.63 771.62 L536.29 772.26 L536.38 772.26 L536.5 772.38 L536.87 772.54 L537.12 772.54 L537.16 772.58 L537.2 772.54 L537.45 772.54 L537.82 772.38 L537.94 772.26 L538.03 772.26 L538.69 771.62 L538.69 771.54 L538.81 771.42 L538.98 771.06 L538.98 770.82 L539.02 770.78 L538.93 770.38 L538.81 770.14 L538.69 770.02 L538.69 769.94 L538.23 769.5 L538.52 769.22 L539.97 768.74 L542.19 768.74 L542.85 769.06 L543.22 769.74 L543.22 771.18 L542.89 771.82 L542.19 772.18 L540.46 772.18 L540.05 772.26 L539.64 772.5 L539.47 772.7 L539.31 773.06 L539.31 773.3 L539.26 773.34 L539.31 773.38 L539.31 773.62 L539.47 773.98 L539.64 774.18 L540.05 774.42 L540.46 774.5 L542.19 774.5 L542.94 774.86 L543.39 775.3 L543.88 776.7 L543.88 778.22 L543.51 778.94 L542.94 779.5 L542.19 779.86 L539.97 779.86 L538.6 779.42 L538.23 779.1 L538.69 778.66 L538.69 778.58 L538.81 778.46 L538.93 778.22 L539.02 777.82 L538.93 777.42 L538.81 777.18 L538.69 777.06 L538.69 776.98 L538.03 776.34 L537.94 776.34 L537.82 776.22 L537.57 776.1 L537.16 776.02 L536.75 776.1 L536.5 776.22 L536.38 776.34 L536.29 776.34 L535.63 776.98 L535.63 777.06 L535.51 777.18 L535.35 777.54 L535.35 777.78 L535.3 777.82 L535.35 778.74 L535.43 778.98 L536.09 780.26 L536.29 780.5 L536.29 780.58 L536.95 781.22 L537.04 781.22 L537.45 781.5 L539.43 782.14 L539.47 782.1 L539.8 782.18 L542.44 782.18 L542.77 782.1 L542.81 782.14 L544.79 781.5 L545.2 781.22 L545.29 781.22 L545.95 780.58 L545.95 780.5 L546.15 780.26 L546.9 778.74 L546.9 778.5 L546.94 778.46 L546.94 776.54 L546.81 776.02 L546.15 774.74 L545.95 774.5 L545.95 774.42 L545.12 773.62 L545.29 773.5 L545.49 773.22 L546.24 771.7 L546.24 771.46 L546.28 771.42 L546.28 769.5 L546.24 769.46 L546.24 769.22 L545.49 767.7 L545.25 767.38 L544.79 767.1 L542.81 766.46 L542.77 766.5 L542.44 766.42 L539.8 766.42 L539.47 766.5Z" fill="#000" fill-rule="evenodd"/>
<path d="M551.33 770.61 L551.03 770.79 L550.78 771.1 L550.62 771.46 L550.62 771.76 L550.58 771.82 L550.62 771.88 L550.62 772.18 L550.78 772.54 L551.03 772.84 L551.33 773.02 L551.58 773.02 L551.62 773.08 L555.33 773.08 L555.38 773.14 L555.38 801.29 L555.33 801.35 L551.62 801.35 L551.58 801.41 L551.33 801.41 L551.03 801.59 L550.78 801.9 L550.62 802.26 L550.62 802.56 L550.58 802.62 L550.62 802.68 L550.62 802.98 L550.78 803.34 L551.03 803.64 L551.33 803.82 L551.58 803.82 L551.62 803.88 L557.23 803.88 L557.28 803.82 L557.53 803.82 L557.83 803.64 L558.08 803.34 L558.23 802.98 L558.23 802.68 L558.28 802.62 L558.28 771.82 L558.23 771.76 L558.23 771.46 L558.08 771.1 L557.83 770.79 L557.53 770.61 L557.28 770.61 L557.23 770.55 L551.62 770.55 L551.58 770.61Z" fill="#000" fill-rule="evenodd"/>
<g transform="translate(40.4 275.6) rotate(-90)">
<path d="M0.08 -13.84 L-0.1 -13.48 L-0.1 -13.19 L-0.16 -13.13 L-0.1 -13.07 L-0.1 -12.78 L0.08 -12.43 L0.32 -12.19 L0.67 -12.01 L0.97 -12.01 L1.03 -11.96 L2.63 -11.96 L2.69 -11.9 L2.69 -1.2 L2.63 -1.15 L1.03 -1.15 L0.97 -1.09 L0.67 -1.09 L0.32 -0.91 L0.08 -0.68 L-0.1 -0.32 L-0.1 -0.03 L-0.16 0.03 L-0.1 0.09 L-0.1 0.38 L0.08 0.73 L0.32 0.97 L0.67 1.15 L0.97 1.15 L1.03 1.2 L7.68 1.2 L7.74 1.15 L8.04 1.15 L8.39 0.97 L8.63 0.73 L8.81 0.38 L8.81 0.09 L8.87 0.03 L8.81 -0.03 L8.81 -0.32 L8.63 -0.68 L8.39 -0.91 L8.04 -1.09 L7.74 -1.09 L7.68 -1.15 L6.08 -1.15 L6.02 -1.2 L6.02 -9.84 L7.38 -11.19 L9.7 -11.96 L11.24 -11.96 L12.43 -11.37 L13.14 -10.08 L13.14 -1.2 L13.08 -1.15 L11.48 -1.15 L11.42 -1.09 L11.12 -1.09 L10.77 -0.91 L10.53 -0.68 L10.35 -0.32 L10.35 -0.03 L10.29 0.03 L10.35 0.09 L10.35 0.38 L10.53 0.73 L10.77 0.97 L11.12 1.15 L11.42 1.15 L11.48 1.2 L18.13 1.2 L18.19 1.15 L18.49 1.15 L18.84 0.97 L19.08 0.73 L19.26 0.38 L19.26 0.09 L19.32 0.03 L19.26 -0.03 L19.26 -0.32 L19.08 -0.68 L18.84 -0.91 L18.49 -1.09 L18.19 -1.09 L18.13 -1.15 L16.53 -1.15 L16.47 -1.2 L16.47 -10.31 L16.35 -10.84 L15.4 -12.72 L15.04 -13.13 L14.57 -13.37 L11.9 -14.25 L11.54 -14.25 L11.48 -14.31 L9.58 -14.31 L9.52 -14.25 L9.16 -14.25 L6.49 -13.37 L6.08 -13.13 L5.96 -13.19 L5.96 -13.48 L5.78 -13.84 L5.54 -14.07 L5.19 -14.25 L4.89 -14.25 L4.83 -14.31 L1.03 -14.31 L0.97 -14.25 L0.67 -14.25 L0.32 -14.07ZM30.48 -24.65 L30.42 -24.59 L30.12 -24.59 L29.77 -24.41 L27.57 -22.24 L25.67 -19.42 L23.59 -15.25 L22.64 -10.55 L22.7 -10.49 L22.64 -10.31 L22.64 -6.55 L22.7 -6.37 L22.64 -6.32 L23.59 -1.62 L25.67 2.56 L27.57 5.38 L29.77 7.55 L30.12 7.73 L30.42 7.73 L30.48 7.78 L30.54 7.73 L30.84 7.73 L31.19 7.55 L31.43 7.31 L31.61 6.96 L31.61 6.67 L31.67 6.61 L31.61 6.55 L31.61 6.26 L31.43 5.9 L29.53 4.02 L27.75 0.5 L26.86 -2.14 L25.97 -6.55 L25.97 -10.31 L26.86 -14.72 L27.75 -17.36 L29.53 -20.89 L31.43 -22.77 L31.61 -23.12 L31.61 -23.41 L31.67 -23.47 L31.61 -23.53 L31.61 -23.82 L31.43 -24.18 L31.19 -24.41 L30.84 -24.59 L30.54 -24.59ZM37.13 -18.07 L37.07 -18.01 L36.77 -18.01 L36.42 -17.83 L36.18 -17.6 L36 -17.24 L36 -16.95 L35.94 -16.89 L36 -16.83 L36 -16.54 L36.18 -16.19 L36.42 -15.95 L49.9 -8.43 L36.42 -0.91 L36.18 -0.68 L36 -0.32 L36 -0.03 L35.94 0.03 L36 0.09 L36 0.38 L36.18 0.73 L36.42 0.97 L36.77 1.15 L37.07 1.15 L37.13 1.2 L37.19 1.15 L37.49 1.15 L38.02 0.91 L52.39 -7.14 L52.8 -7.31 L53.28 -7.73 L53.46 -8.08 L53.46 -8.37 L53.52 -8.43 L53.46 -8.49 L53.46 -8.78 L53.28 -9.14 L52.8 -9.55 L52.39 -9.72 L38.02 -17.77 L37.49 -18.01 L37.19 -18.01Z" fill="#000" fill-rule="evenodd"/>
<g transform="translate(-338.3 -794.9)"><path d="M404.1 775.3L396.2 795.5L411.6 795.5Z" fill="#000" stroke="#000" stroke-width="2" stroke-linejoin="round"/><path d="M403.4 780.1L398.6 793.1L408.4 793.1Z" fill="#fff"/><path d="M419.1 782.6L416.4 795.2" stroke="#000" stroke-width="3.4" fill="none"/><path d="M418.6 788.2L425.5 782.6Q428.5 780.6 430.4 782.3" stroke="#000" stroke-width="2.3" fill="none" stroke-linecap="round"/><path d="M421.3 786.2Q423 792 424.8 794.3Q426.8 796.2 429.8 792.3" stroke="#000" stroke-width="2.8" fill="none" stroke-linecap="round"/></g>
<path d="M96.68 -24.65 L96.62 -24.59 L96.32 -24.59 L95.97 -24.41 L95.73 -24.18 L95.55 -23.82 L95.55 -23.53 L95.49 -23.47 L95.55 -23.41 L95.55 -23.12 L95.73 -22.77 L97.63 -20.89 L99.41 -17.36 L100.3 -14.72 L101.19 -10.31 L101.19 -6.55 L100.3 -2.14 L99.41 0.5 L97.63 4.02 L95.73 5.9 L95.55 6.26 L95.55 6.55 L95.49 6.61 L95.55 6.67 L95.55 6.96 L95.73 7.31 L95.97 7.55 L96.32 7.73 L96.62 7.73 L96.68 7.78 L96.74 7.73 L97.04 7.73 L97.39 7.55 L99.59 5.38 L101.49 2.56 L103.57 -1.62 L104.52 -6.32 L104.46 -6.37 L104.52 -6.55 L104.52 -10.31 L104.46 -10.49 L104.52 -10.55 L103.57 -15.25 L101.49 -19.42 L99.59 -22.24 L97.39 -24.41 L97.04 -24.59 L96.74 -24.59Z" fill="#000" fill-rule="evenodd"/>
</g>
<g transform="translate(40.4 604.25) rotate(-90)">
<path d="M0.08 -13.84 L-0.1 -13.48 L-0.1 -13.19 L-0.16 -13.13 L-0.1 -13.07 L-0.1 -12.78 L0.08 -12.43 L0.32 -12.19 L0.67 -12.01 L0.97 -12.01 L1.03 -11.96 L2.63 -11.96 L2.69 -11.9 L2.69 -1.2 L2.63 -1.15 L1.03 -1.15 L0.97 -1.09 L0.67 -1.09 L0.32 -0.91 L0.08 -0.68 L-0.1 -0.32 L-0.1 -0.03 L-0.16 0.03 L-0.1 0.09 L-0.1 0.38 L0.08 0.73 L0.32 0.97 L0.67 1.15 L0.97 1.15 L1.03 1.2 L7.68 1.2 L7.74 1.15 L8.04 1.15 L8.39 0.97 L8.63 0.73 L8.81 0.38 L8.81 0.09 L8.87 0.03 L8.81 -0.03 L8.81 -0.32 L8.63 -0.68 L8.39 -0.91 L8.04 -1.09 L7.74 -1.09 L7.68 -1.15 L6.08 -1.15 L6.02 -1.2 L6.02 -9.84 L7.38 -11.19 L9.7 -11.96 L11.24 -11.96 L12.43 -11.37 L13.14 -10.08 L13.14 -1.2 L13.08 -1.15 L11.48 -1.15 L11.42 -1.09 L11.12 -1.09 L10.77 -0.91 L10.53 -0.68 L10.35 -0.32 L10.35 -0.03 L10.29 0.03 L10.35 0.09 L10.35 0.38 L10.53 0.73 L10.77 0.97 L11.12 1.15 L11.42 1.15 L11.48 1.2 L18.13 1.2 L18.19 1.15 L18.49 1.15 L18.84 0.97 L19.08 0.73 L19.26 0.38 L19.26 0.09 L19.32 0.03 L19.26 -0.03 L19.26 -0.32 L19.08 -0.68 L18.84 -0.91 L18.49 -1.09 L18.19 -1.09 L18.13 -1.15 L16.53 -1.15 L16.47 -1.2 L16.47 -10.31 L16.35 -10.84 L15.4 -12.72 L15.04 -13.13 L14.57 -13.37 L11.9 -14.25 L11.54 -14.25 L11.48 -14.31 L9.58 -14.31 L9.52 -14.25 L9.16 -14.25 L6.49 -13.37 L6.08 -13.13 L5.96 -13.19 L5.96 -13.48 L5.78 -13.84 L5.54 -14.07 L5.19 -14.25 L4.89 -14.25 L4.83 -14.31 L1.03 -14.31 L0.97 -14.25 L0.67 -14.25 L0.32 -14.07ZM30.48 -24.65 L30.42 -24.59 L30.12 -24.59 L29.77 -24.41 L27.57 -22.24 L25.67 -19.42 L23.59 -15.25 L22.64 -10.55 L22.7 -10.49 L22.64 -10.31 L22.64 -6.55 L22.7 -6.37 L22.64 -6.32 L23.59 -1.62 L25.67 2.56 L27.57 5.38 L29.77 7.55 L30.12 7.73 L30.42 7.73 L30.48 7.78 L30.54 7.73 L30.84 7.73 L31.19 7.55 L31.43 7.31 L31.61 6.96 L31.61 6.67 L31.67 6.61 L31.61 6.55 L31.61 6.26 L31.43 5.9 L29.53 4.02 L27.75 0.5 L26.86 -2.14 L25.97 -6.55 L25.97 -10.31 L26.86 -14.72 L27.75 -17.36 L29.53 -20.89 L31.43 -22.77 L31.61 -23.12 L31.61 -23.41 L31.67 -23.47 L31.61 -23.53 L31.61 -23.82 L31.43 -24.18 L31.19 -24.41 L30.84 -24.59 L30.54 -24.59ZM37.13 -18.07 L37.07 -18.01 L36.77 -18.01 L36.42 -17.83 L36.18 -17.6 L36 -17.24 L36 -16.95 L35.94 -16.89 L36 -16.83 L36 -16.54 L36.18 -16.19 L36.42 -15.95 L49.9 -8.43 L36.42 -0.91 L36.18 -0.68 L36 -0.32 L36 -0.03 L35.94 0.03 L36 0.09 L36 0.38 L36.18 0.73 L36.42 0.97 L36.77 1.15 L37.07 1.15 L37.13 1.2 L37.19 1.15 L37.49 1.15 L38.02 0.91 L52.39 -7.14 L52.8 -7.31 L53.28 -7.73 L53.46 -8.08 L53.46 -8.37 L53.52 -8.43 L53.46 -8.49 L53.46 -8.78 L53.28 -9.14 L52.8 -9.55 L52.39 -9.72 L38.02 -17.77 L37.49 -18.01 L37.19 -18.01Z" fill="#000" fill-rule="evenodd"/>
<g transform="translate(-338.3 -794.9)"><path d="M404.1 775.3L396.2 795.5L411.6 795.5Z" fill="#000" stroke="#000" stroke-width="2" stroke-linejoin="round"/><path d="M403.4 780.1L398.6 793.1L408.4 793.1Z" fill="#fff"/><path d="M419.1 782.6L416.4 795.2" stroke="#000" stroke-width="3.4" fill="none"/><path d="M418.6 788.2L425.5 782.6Q428.5 780.6 430.4 782.3" stroke="#000" stroke-width="2.3" fill="none" stroke-linecap="round"/><path d="M421.3 786.2Q423 792 424.8 794.3Q426.8 796.2 429.8 792.3" stroke="#000" stroke-width="2.8" fill="none" stroke-linecap="round"/></g>
<path d="M96.68 -24.65 L96.62 -24.59 L96.32 -24.59 L95.97 -24.41 L95.73 -24.18 L95.55 -23.82 L95.55 -23.53 L95.49 -23.47 L95.55 -23.41 L95.55 -23.12 L95.73 -22.77 L97.63 -20.89 L99.41 -17.36 L100.3 -14.72 L101.19 -10.31 L101.19 -6.55 L100.3 -2.14 L99.41 0.5 L97.63 4.02 L95.73 5.9 L95.55 6.26 L95.55 6.55 L95.49 6.61 L95.55 6.67 L95.55 6.96 L95.73 7.31 L95.97 7.55 L96.32 7.73 L96.62 7.73 L96.68 7.78 L96.74 7.73 L97.04 7.73 L97.39 7.55 L99.59 5.38 L101.49 2.56 L103.57 -1.62 L104.52 -6.32 L104.46 -6.37 L104.52 -6.55 L104.52 -10.31 L104.46 -10.49 L104.52 -10.55 L103.57 -15.25 L101.49 -19.42 L99.59 -22.24 L97.39 -24.41 L97.04 -24.59 L96.74 -24.59Z" fill="#000" fill-rule="evenodd"/>
</g></svg></body></html>
